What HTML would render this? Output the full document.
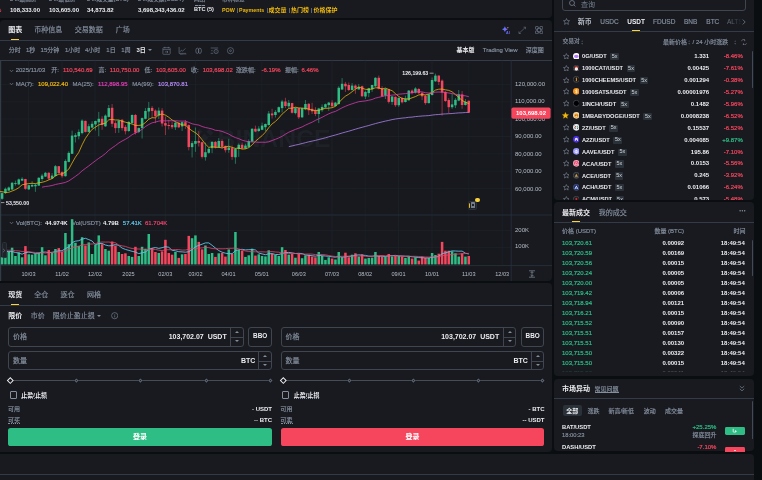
<!DOCTYPE html>
<html lang="zh-CN">
<head>
<meta charset="utf-8">
<title>BTC/USDT</title>
<style>
*{box-sizing:border-box;margin:0;padding:0}
html,body{width:762px;height:480px;overflow:hidden;background:#0b0e11}
body{position:relative;font-family:"Liberation Sans","Noto Sans CJK SC",sans-serif;color:#eaecef;font-size:6px;line-height:1}
.p{position:absolute;background:#181a20}
.a{position:absolute;white-space:nowrap;line-height:1}
.b{font-weight:bold}
.g{color:#848e9c;-webkit-text-stroke:0.18px #848e9c}
.d{color:#5e6673}
.gr{color:#2ebd85}
.rd{color:#f6465d}
.m{-webkit-text-stroke:0.2px currentColor}
.yl{color:#f0b90b}
.ln{position:absolute;background:#333b47;min-height:1.2px}
.r{text-align:right}
</style>
</head>
<body>
<div id="root" style="position:absolute;left:0;top:0;width:762px;height:480px;overflow:hidden;will-change:transform">

<!-- ===== top ticker strip ===== -->
<div class="p" id="top" style="left:-6px;top:0;width:558px;height:17.5px;border-radius:0 0 4px 4px"></div>


<!-- top strip content -->
<div class="a rd b" style="left:-17.6px;top:7.2px;font-size:6px">-6.19%</div>
<div class="a g" style="left:10px;top:-3.5px;font-size:5.7px">24h最高价</div>
<div class="a g" style="left:49px;top:-3.5px;font-size:5.7px">24h最低价</div>
<div class="a g" style="left:87px;top:-3.5px;font-size:5.7px">24h成交量(BTC)</div>
<div class="a g" style="left:138px;top:-3.5px;font-size:5.7px">24h成交额(USDT)</div>
<div class="a g" style="left:194px;top:-3.5px;font-size:5.7px">网络</div>
<div class="a" style="left:194.5px;top:5.4px;width:10.5px;height:0;border-top:0.7px dashed #848e9c"></div>
<div class="a g" style="left:222px;top:-3.5px;font-size:5.7px">币种标签</div>
<div class="a b" style="left:10px;top:7.2px;font-size:6px">108,333.00</div>
<div class="a b" style="left:49px;top:7.2px;font-size:6px">103,605.00</div>
<div class="a b" style="left:87px;top:7.2px;font-size:6px">34,873.82</div>
<div class="a b" style="left:138px;top:7.2px;font-size:6px">3,698,343,436.02</div>
<div class="a b" style="left:194px;top:7.4px;font-size:5.6px">BTC (5)</div>
<div class="a b yl" style="left:222px;top:7.5px;font-size:5.4px">POW</div>
<div class="a b yl" style="left:239.1px;top:7.5px;font-size:5.3px">Payments</div>
<div class="a b yl" style="left:268.6px;top:7.2px;font-size:6px">成交量</div>
<div class="a b yl" style="left:291px;top:7.2px;font-size:6px">热门榜</div>
<div class="a b yl" style="left:313.5px;top:7.2px;font-size:6px">价格保护</div>
<div class="a" style="left:237.2px;top:8.2px;width:0.6px;height:4.6px;background:#5e6673"></div>
<div class="a" style="left:266.5px;top:8.2px;width:0.6px;height:4.6px;background:#5e6673"></div>
<div class="a" style="left:288.9px;top:8.2px;width:0.6px;height:4.6px;background:#5e6673"></div>
<div class="a" style="left:311.4px;top:8.2px;width:0.6px;height:4.6px;background:#5e6673"></div>

<!-- ===== chart panel ===== -->
<div class="p" id="chart" style="left:0;top:19.7px;width:552px;height:261.2px;border-radius:4px 4px 4px 0"></div>


<!-- chart header -->
<div class="a b" style="left:8.2px;top:26px;font-size:7px">图表</div>
<div class="a g" style="left:34.3px;top:26px;font-size:7px">币种信息</div>
<div class="a g" style="left:74.8px;top:26px;font-size:7px">交易数据</div>
<div class="a g" style="left:115.7px;top:26px;font-size:7px">广场</div>
<div class="a" style="left:11px;top:38.8px;width:8px;height:1.4px;background:#fcd535"></div>
<div class="ln" style="left:0;top:40px;width:552px;height:1.2px"></div>
<!-- header icons -->
<svg class="a" style="left:501px;top:25px" width="11" height="10" viewBox="0 0 11 10"><defs><linearGradient id="ai" x1="0" y1="0" x2="1" y2="0.6"><stop offset="0" stop-color="#2f8dff"/><stop offset="1" stop-color="#9a5cf6"/></linearGradient></defs><path d="M3.9 1.3Q4.3 3.8 6.8 4.2Q4.3 4.6 3.9 7.1Q3.5 4.6 1 4.2Q3.5 3.8 3.9 1.3Z" fill="url(#ai)"/><path d="M6.9 1.8L7.2 2.5L7.9 2.8L7.2 3.1L6.9 3.8L6.6 3.1L5.9 2.8L6.6 2.5Z" fill="#e6a08c"/><text x="5.1" y="8.9" font-size="3.6" font-weight="bold" fill="url(#ai)" font-family="'Liberation Sans',sans-serif">AI</text></svg>
<svg class="a" style="left:518px;top:25.5px" width="9" height="9" viewBox="0 0 9 9" fill="none" stroke="#7a8494" stroke-width="0.5"><path d="M1 7.4L7.4 1.3M5.5 1.2H7.5V3.2M0.9 5.4V7.5H2.9"/></svg>
<svg class="a" style="left:534.9px;top:26.1px" width="8.2" height="8.2" viewBox="0 0 9.5 9.5" fill="none" stroke="#7a8494" stroke-width="0.7"><rect x="0.6" y="0.6" width="3.2" height="3.2" rx="0.5"/><rect x="5.7" y="0.6" width="3.2" height="3.2" rx="0.5"/><rect x="0.6" y="5.7" width="3.2" height="3.2" rx="0.5"/><rect x="5.7" y="5.7" width="3.2" height="3.2" rx="0.5"/><circle cx="4.75" cy="4.75" r="2.4"/></svg>
<!-- interval row -->
<div class="a g" style="left:8.7px;top:46.8px;font-size:6px">分时</div>
<div class="a g" style="left:26px;top:46.8px;font-size:6px">1秒</div>
<div class="a g" style="left:40.6px;top:46.8px;font-size:6px">15分钟</div>
<div class="a g" style="left:64.9px;top:46.8px;font-size:6px">1小时</div>
<div class="a g" style="left:85px;top:46.8px;font-size:6px">4小时</div>
<div class="a g" style="left:106.3px;top:46.8px;font-size:6px">1日</div>
<div class="a g" style="left:121.3px;top:46.8px;font-size:6px">1周</div>
<div class="a b" style="left:136.5px;top:46.8px;font-size:6px">3日</div>
<div class="a" style="left:148.4px;top:49.4px;width:0;height:0;border-left:2px solid transparent;border-right:2px solid transparent;border-top:2.2px solid #848e9c"></div>
<svg class="a" style="left:161.5px;top:46.2px" width="9" height="9" viewBox="0 0 9 9" fill="none" stroke="#7a8494" stroke-width="0.55"><rect x="0.9" y="1.7" width="7.3" height="6.6" rx="0.7"/><path d="M2.8 0.8V2.4M6.3 0.8V2.4M0.9 3.6H8.2M2.9 5.9H6M4.9 4.9L6 5.9L4.9 6.9"/></svg>
<svg class="a" style="left:177.5px;top:46.2px" width="9" height="9" viewBox="0 0 9 9" fill="none" stroke="#7a8494" stroke-width="0.55"><path d="M1.1 1V7.4H8.2M2 5.8L3.4 4.2L4.6 5.2L7.4 2.4"/><path d="M2 8.4H8.2" stroke-dasharray="0.7 0.5"/></svg>
<svg class="a" style="left:193.6px;top:46.2px" width="9" height="9" viewBox="0 0 9 9" fill="none" stroke="#7a8494" stroke-width="0.6"><ellipse cx="3.3" cy="4.8" rx="1.5" ry="2.7"/><ellipse cx="5.9" cy="4.8" rx="1.5" ry="2.7"/></svg>
<svg class="a" style="left:209.5px;top:46.2px" width="9" height="9" viewBox="0 0 9 9" fill="none" stroke="#7a8494" stroke-width="0.55"><path d="M0.7 2H8.2M1.2 4.7H2.6M0.7 7.3H3.2"/><ellipse cx="6.1" cy="5.5" rx="2.1" ry="2.1"/><path d="M6.1 4.4V6.6" stroke-width="0.4"/></svg>
<svg class="a" style="left:225.5px;top:46.2px" width="9" height="9" viewBox="0 0 9 9" fill="none" stroke="#7a8494" stroke-width="0.55"><circle cx="4.5" cy="4.7" r="3.1"/><circle cx="4.5" cy="4.7" r="0.9"/></svg>
<div class="a b" style="left:456.5px;top:47.2px;font-size:6px">基本版</div>
<div class="a g" style="left:482.8px;top:47.2px;font-size:6px">Trading View</div>
<div class="a g" style="left:525.8px;top:47.2px;font-size:6px">深度图</div>
<div class="ln" style="left:0;top:60px;width:552px;height:1.2px"></div>

<!--CHART-->
<svg class="a" id="chartsvg" style="left:0;top:60px" width="552" height="221" viewBox="0 60 552 221" font-family="'Liberation Sans','Noto Sans CJK SC',sans-serif">
<rect x="0" y="61" width="511" height="220" fill="#17191f"/>
<g stroke="#1c2428" stroke-width="0.7">
<path d="M28.5 60.6V265"/>
<path d="M62 60.6V265"/>
<path d="M95 60.6V265"/>
<path d="M128.5 60.6V265"/>
<path d="M165.3 60.6V265"/>
<path d="M195.5 60.6V265"/>
<path d="M228.5 60.6V265"/>
<path d="M261.8 60.6V265"/>
<path d="M298.8 60.6V265"/>
<path d="M332 60.6V265"/>
<path d="M365.2 60.6V265"/>
<path d="M398.5 60.6V265"/>
<path d="M432 60.6V265"/>
<path d="M468.8 60.6V265"/>
<path d="M502.2 60.6V265"/>
<path d="M0 84.4H511"/>
<path d="M0 101.8H511"/>
<path d="M0 119.1H511"/>
<path d="M0 136.5H511"/>
<path d="M0 153.9H511"/>
<path d="M0 171.2H511"/>
<path d="M0 188.6H511"/>
<path d="M0 230.4H511"/>
<path d="M0 247.6H511"/>
</g>
<g fill="#1e2127"><g transform="translate(204.4,137.8) rotate(45)"><rect x="-3" y="-3" width="6" height="6"/><rect x="-10" y="-3" width="4.4" height="6"/><rect x="5.6" y="-3" width="4.4" height="6"/><rect x="-3" y="-10" width="6" height="4.4"/><rect x="-3" y="5.6" width="6" height="4.4"/></g>
<text x="217.6" y="146.5" font-size="24" font-weight="bold" textLength="113" lengthAdjust="spacingAndGlyphs">BINANCE</text></g>
<g stroke="#2a323c" stroke-width="0.8"><path d="M511.2 60V281"/><path d="M0 215H552"/><path d="M0 265.6H552"/></g>
<rect x="0" y="60" width="1.2" height="221" fill="#333b47"/>
<path d="M2.10 192.2V199.8" stroke="#2ebd85" stroke-width="0.55"/>
<rect x="0.85" y="193.1" width="2.5" height="5.7" fill="#2ebd85"/>
<path d="M5.43 187.5V194.0" stroke="#2ebd85" stroke-width="0.55"/>
<rect x="4.18" y="188.8" width="2.5" height="4.3" fill="#2ebd85"/>
<path d="M8.77 186.5V191.2" stroke="#2ebd85" stroke-width="0.55"/>
<rect x="7.52" y="187.5" width="2.5" height="3.1" fill="#2ebd85"/>
<path d="M12.10 181.9V190.0" stroke="#2ebd85" stroke-width="0.55"/>
<rect x="10.85" y="182.8" width="2.5" height="6.7" fill="#2ebd85"/>
<path d="M15.43 180.6V185.6" stroke="#2ebd85" stroke-width="0.55"/>
<rect x="14.18" y="183.1" width="2.5" height="0.9" fill="#2ebd85"/>
<path d="M18.77 178.5V185.2" stroke="#2ebd85" stroke-width="0.55"/>
<rect x="17.52" y="179.4" width="2.5" height="5.0" fill="#2ebd85"/>
<path d="M22.10 177.2V181.2" stroke="#2ebd85" stroke-width="0.55"/>
<rect x="20.85" y="178.8" width="2.5" height="1.8" fill="#2ebd85"/>
<path d="M25.43 178.8V189.8" stroke="#f6465d" stroke-width="0.55"/>
<rect x="24.18" y="179.0" width="2.5" height="9.8" fill="#f6465d"/>
<path d="M28.77 184.8V190.0" stroke="#2ebd85" stroke-width="0.55"/>
<rect x="27.52" y="185.2" width="2.5" height="4.2" fill="#2ebd85"/>
<path d="M32.10 181.2V187.2" stroke="#2ebd85" stroke-width="0.55"/>
<rect x="30.85" y="185.0" width="2.5" height="1.5" fill="#2ebd85"/>
<path d="M35.43 183.8V191.9" stroke="#2ebd85" stroke-width="0.55"/>
<rect x="34.18" y="184.8" width="2.5" height="1.5" fill="#2ebd85"/>
<path d="M38.77 177.2V186.0" stroke="#2ebd85" stroke-width="0.55"/>
<rect x="37.52" y="177.8" width="2.5" height="7.8" fill="#2ebd85"/>
<path d="M42.10 173.8V181.2" stroke="#2ebd85" stroke-width="0.55"/>
<rect x="40.85" y="175.6" width="2.5" height="3.4" fill="#2ebd85"/>
<path d="M45.43 171.9V176.9" stroke="#2ebd85" stroke-width="0.55"/>
<rect x="44.18" y="172.8" width="2.5" height="3.8" fill="#2ebd85"/>
<path d="M48.77 172.2V180.0" stroke="#f6465d" stroke-width="0.55"/>
<rect x="47.52" y="172.8" width="2.5" height="5.8" fill="#f6465d"/>
<path d="M52.10 173.1V179.0" stroke="#2ebd85" stroke-width="0.55"/>
<rect x="50.85" y="175.6" width="2.5" height="2.9" fill="#2ebd85"/>
<path d="M55.43 165.0V176.5" stroke="#2ebd85" stroke-width="0.55"/>
<rect x="54.18" y="166.2" width="2.5" height="9.8" fill="#2ebd85"/>
<path d="M58.77 166.0V173.8" stroke="#f6465d" stroke-width="0.55"/>
<rect x="57.52" y="166.2" width="2.5" height="6.8" fill="#f6465d"/>
<path d="M62.10 171.5V177.8" stroke="#f6465d" stroke-width="0.55"/>
<rect x="60.85" y="171.9" width="2.5" height="4.3" fill="#f6465d"/>
<path d="M65.43 159.4V176.6" stroke="#2ebd85" stroke-width="0.55"/>
<rect x="64.18" y="161.0" width="2.5" height="15.2" fill="#2ebd85"/>
<path d="M68.77 151.3V162.3" stroke="#2ebd85" stroke-width="0.55"/>
<rect x="67.52" y="152.9" width="2.5" height="9.0" fill="#2ebd85"/>
<path d="M72.10 130.6V154.0" stroke="#2ebd85" stroke-width="0.55"/>
<rect x="70.85" y="135.6" width="2.5" height="18.2" fill="#2ebd85"/>
<path d="M75.43 133.1V142.5" stroke="#2ebd85" stroke-width="0.55"/>
<rect x="74.18" y="135.2" width="2.5" height="1.7" fill="#2ebd85"/>
<path d="M78.77 129.4V139.4" stroke="#2ebd85" stroke-width="0.55"/>
<rect x="77.52" y="131.9" width="2.5" height="4.3" fill="#2ebd85"/>
<path d="M82.10 119.4V134.4" stroke="#2ebd85" stroke-width="0.55"/>
<rect x="80.85" y="120.6" width="2.5" height="12.5" fill="#2ebd85"/>
<path d="M85.43 120.6V132.5" stroke="#f6465d" stroke-width="0.55"/>
<rect x="84.18" y="120.9" width="2.5" height="11.0" fill="#f6465d"/>
<path d="M88.77 123.8V132.5" stroke="#2ebd85" stroke-width="0.55"/>
<rect x="87.52" y="126.2" width="2.5" height="5.7" fill="#2ebd85"/>
<path d="M92.10 121.2V128.1" stroke="#2ebd85" stroke-width="0.55"/>
<rect x="90.85" y="123.8" width="2.5" height="3.8" fill="#2ebd85"/>
<path d="M95.43 120.6V130.6" stroke="#2ebd85" stroke-width="0.55"/>
<rect x="94.18" y="121.0" width="2.5" height="3.4" fill="#2ebd85"/>
<path d="M98.77 111.9V136.2" stroke="#2ebd85" stroke-width="0.55"/>
<rect x="97.52" y="118.8" width="2.5" height="3.5" fill="#2ebd85"/>
<path d="M102.10 116.2V129.8" stroke="#f6465d" stroke-width="0.55"/>
<rect x="100.85" y="118.8" width="2.5" height="6.2" fill="#f6465d"/>
<path d="M105.43 114.4V126.9" stroke="#2ebd85" stroke-width="0.55"/>
<rect x="104.18" y="115.6" width="2.5" height="10.7" fill="#2ebd85"/>
<path d="M108.77 105.0V117.5" stroke="#2ebd85" stroke-width="0.55"/>
<rect x="107.52" y="108.1" width="2.5" height="8.8" fill="#2ebd85"/>
<path d="M112.10 104.0V126.9" stroke="#f6465d" stroke-width="0.55"/>
<rect x="110.85" y="107.8" width="2.5" height="16.0" fill="#f6465d"/>
<path d="M115.43 121.2V133.1" stroke="#f6465d" stroke-width="0.55"/>
<rect x="114.18" y="123.1" width="2.5" height="5.0" fill="#f6465d"/>
<path d="M118.77 120.0V132.8" stroke="#2ebd85" stroke-width="0.55"/>
<rect x="117.52" y="120.6" width="2.5" height="7.5" fill="#2ebd85"/>
<path d="M122.10 119.0V130.6" stroke="#f6465d" stroke-width="0.55"/>
<rect x="120.85" y="119.8" width="2.5" height="8.3" fill="#f6465d"/>
<path d="M125.43 125.0V134.4" stroke="#f6465d" stroke-width="0.55"/>
<rect x="124.18" y="126.9" width="2.5" height="4.3" fill="#f6465d"/>
<path d="M128.77 121.2V131.9" stroke="#2ebd85" stroke-width="0.55"/>
<rect x="127.52" y="121.9" width="2.5" height="9.1" fill="#2ebd85"/>
<path d="M132.10 114.4V123.8" stroke="#2ebd85" stroke-width="0.55"/>
<rect x="130.85" y="115.0" width="2.5" height="8.1" fill="#2ebd85"/>
<path d="M135.43 114.0V134.6" stroke="#f6465d" stroke-width="0.55"/>
<rect x="134.18" y="115.0" width="2.5" height="17.6" fill="#f6465d"/>
<path d="M138.77 127.5V133.1" stroke="#2ebd85" stroke-width="0.55"/>
<rect x="137.52" y="128.1" width="2.5" height="3.8" fill="#2ebd85"/>
<path d="M142.10 117.5V138.5" stroke="#2ebd85" stroke-width="0.55"/>
<rect x="140.85" y="118.1" width="2.5" height="10.0" fill="#2ebd85"/>
<path d="M145.43 108.1V119.4" stroke="#2ebd85" stroke-width="0.55"/>
<rect x="144.18" y="111.0" width="2.5" height="7.8" fill="#2ebd85"/>
<path d="M148.77 101.9V119.4" stroke="#2ebd85" stroke-width="0.55"/>
<rect x="147.52" y="107.9" width="2.5" height="3.6" fill="#2ebd85"/>
<path d="M152.10 106.0V117.8" stroke="#f6465d" stroke-width="0.55"/>
<rect x="150.85" y="107.9" width="2.5" height="3.1" fill="#f6465d"/>
<path d="M155.43 109.4V123.1" stroke="#f6465d" stroke-width="0.55"/>
<rect x="154.18" y="110.6" width="2.5" height="5.7" fill="#f6465d"/>
<path d="M158.77 107.5V119.0" stroke="#2ebd85" stroke-width="0.55"/>
<rect x="157.52" y="110.6" width="2.5" height="5.0" fill="#2ebd85"/>
<path d="M162.10 108.1V126.5" stroke="#f6465d" stroke-width="0.55"/>
<rect x="160.85" y="110.6" width="2.5" height="12.9" fill="#f6465d"/>
<path d="M165.43 116.5V135.0" stroke="#f6465d" stroke-width="0.55"/>
<rect x="164.18" y="123.1" width="2.5" height="2.5" fill="#f6465d"/>
<path d="M168.76 119.8V129.4" stroke="#f6465d" stroke-width="0.55"/>
<rect x="167.51" y="125.0" width="2.5" height="1.0" fill="#f6465d"/>
<path d="M172.10 121.9V129.0" stroke="#f6465d" stroke-width="0.55"/>
<rect x="170.85" y="125.0" width="2.5" height="2.2" fill="#f6465d"/>
<path d="M175.43 121.2V130.0" stroke="#2ebd85" stroke-width="0.55"/>
<rect x="174.18" y="122.8" width="2.5" height="4.5" fill="#2ebd85"/>
<path d="M178.76 122.2V128.1" stroke="#f6465d" stroke-width="0.55"/>
<rect x="177.51" y="122.8" width="2.5" height="4.5" fill="#f6465d"/>
<path d="M182.10 121.5V131.0" stroke="#2ebd85" stroke-width="0.55"/>
<rect x="180.85" y="122.2" width="2.5" height="4.2" fill="#2ebd85"/>
<path d="M185.43 120.0V128.8" stroke="#f6465d" stroke-width="0.55"/>
<rect x="184.18" y="122.2" width="2.5" height="3.3" fill="#f6465d"/>
<path d="M188.76 124.5V150.4" stroke="#f6465d" stroke-width="0.55"/>
<rect x="187.51" y="125.1" width="2.5" height="22.0" fill="#f6465d"/>
<path d="M192.10 141.0V157.5" stroke="#2ebd85" stroke-width="0.55"/>
<rect x="190.85" y="143.1" width="2.5" height="4.0" fill="#2ebd85"/>
<path d="M195.43 127.5V151.9" stroke="#2ebd85" stroke-width="0.55"/>
<rect x="194.18" y="141.0" width="2.5" height="2.8" fill="#2ebd85"/>
<path d="M198.76 131.2V146.6" stroke="#f6465d" stroke-width="0.55"/>
<rect x="197.51" y="141.0" width="2.5" height="1.8" fill="#f6465d"/>
<path d="M202.10 141.5V158.5" stroke="#f6465d" stroke-width="0.55"/>
<rect x="200.85" y="142.2" width="2.5" height="14.7" fill="#f6465d"/>
<path d="M205.43 142.5V160.6" stroke="#2ebd85" stroke-width="0.55"/>
<rect x="204.18" y="152.2" width="2.5" height="5.0" fill="#2ebd85"/>
<path d="M208.76 147.5V153.8" stroke="#2ebd85" stroke-width="0.55"/>
<rect x="207.51" y="148.8" width="2.5" height="4.0" fill="#2ebd85"/>
<path d="M212.10 141.2V153.1" stroke="#2ebd85" stroke-width="0.55"/>
<rect x="210.85" y="141.9" width="2.5" height="6.2" fill="#2ebd85"/>
<path d="M215.43 141.0V148.5" stroke="#f6465d" stroke-width="0.55"/>
<rect x="214.18" y="141.9" width="2.5" height="5.6" fill="#f6465d"/>
<path d="M218.76 138.1V148.1" stroke="#2ebd85" stroke-width="0.55"/>
<rect x="217.51" y="141.0" width="2.5" height="6.5" fill="#2ebd85"/>
<path d="M222.10 139.4V148.8" stroke="#f6465d" stroke-width="0.55"/>
<rect x="220.85" y="141.0" width="2.5" height="5.9" fill="#f6465d"/>
<path d="M225.43 145.6V152.5" stroke="#f6465d" stroke-width="0.55"/>
<rect x="224.18" y="146.2" width="2.5" height="4.0" fill="#f6465d"/>
<path d="M228.76 138.8V152.8" stroke="#2ebd85" stroke-width="0.55"/>
<rect x="227.51" y="147.5" width="2.5" height="2.5" fill="#2ebd85"/>
<path d="M232.10 145.6V159.8" stroke="#f6465d" stroke-width="0.55"/>
<rect x="230.85" y="148.1" width="2.5" height="8.8" fill="#f6465d"/>
<path d="M235.43 148.1V163.8" stroke="#2ebd85" stroke-width="0.55"/>
<rect x="234.18" y="148.8" width="2.5" height="8.5" fill="#2ebd85"/>
<path d="M238.76 143.5V156.9" stroke="#2ebd85" stroke-width="0.55"/>
<rect x="237.51" y="144.8" width="2.5" height="4.2" fill="#2ebd85"/>
<path d="M242.10 142.5V149.0" stroke="#f6465d" stroke-width="0.55"/>
<rect x="240.85" y="144.8" width="2.5" height="3.8" fill="#f6465d"/>
<path d="M245.43 143.8V149.0" stroke="#2ebd85" stroke-width="0.55"/>
<rect x="244.18" y="145.6" width="2.5" height="2.9" fill="#2ebd85"/>
<path d="M248.76 139.4V147.5" stroke="#2ebd85" stroke-width="0.55"/>
<rect x="247.51" y="141.2" width="2.5" height="5.7" fill="#2ebd85"/>
<path d="M252.10 128.1V142.2" stroke="#2ebd85" stroke-width="0.55"/>
<rect x="250.85" y="128.8" width="2.5" height="12.8" fill="#2ebd85"/>
<path d="M255.43 125.6V132.2" stroke="#f6465d" stroke-width="0.55"/>
<rect x="254.18" y="128.8" width="2.5" height="2.7" fill="#f6465d"/>
<path d="M258.76 126.2V131.9" stroke="#2ebd85" stroke-width="0.55"/>
<rect x="257.51" y="128.6" width="2.5" height="2.4" fill="#2ebd85"/>
<path d="M262.10 122.6V130.1" stroke="#2ebd85" stroke-width="0.55"/>
<rect x="260.85" y="125.6" width="2.5" height="4.2" fill="#2ebd85"/>
<path d="M265.43 123.5V131.2" stroke="#2ebd85" stroke-width="0.55"/>
<rect x="264.18" y="124.0" width="2.5" height="3.2" fill="#2ebd85"/>
<path d="M268.76 111.0V125.6" stroke="#2ebd85" stroke-width="0.55"/>
<rect x="267.51" y="113.5" width="2.5" height="11.5" fill="#2ebd85"/>
<path d="M272.10 108.8V118.5" stroke="#f6465d" stroke-width="0.55"/>
<rect x="270.85" y="113.5" width="2.5" height="1.8" fill="#f6465d"/>
<path d="M275.43 110.0V117.5" stroke="#2ebd85" stroke-width="0.55"/>
<rect x="274.18" y="111.9" width="2.5" height="3.1" fill="#2ebd85"/>
<path d="M278.76 106.5V112.8" stroke="#2ebd85" stroke-width="0.55"/>
<rect x="277.51" y="107.2" width="2.5" height="5.0" fill="#2ebd85"/>
<path d="M282.10 99.8V112.5" stroke="#2ebd85" stroke-width="0.55"/>
<rect x="280.85" y="101.5" width="2.5" height="6.6" fill="#2ebd85"/>
<path d="M285.43 97.8V108.1" stroke="#f6465d" stroke-width="0.55"/>
<rect x="284.18" y="101.5" width="2.5" height="4.5" fill="#f6465d"/>
<path d="M288.76 100.0V108.1" stroke="#2ebd85" stroke-width="0.55"/>
<rect x="287.51" y="102.8" width="2.5" height="3.5" fill="#2ebd85"/>
<path d="M292.10 102.8V113.5" stroke="#f6465d" stroke-width="0.55"/>
<rect x="290.85" y="103.1" width="2.5" height="9.7" fill="#f6465d"/>
<path d="M295.43 107.2V114.4" stroke="#2ebd85" stroke-width="0.55"/>
<rect x="294.18" y="108.1" width="2.5" height="5.0" fill="#2ebd85"/>
<path d="M298.76 107.8V119.0" stroke="#f6465d" stroke-width="0.55"/>
<rect x="297.51" y="108.1" width="2.5" height="9.2" fill="#f6465d"/>
<path d="M302.10 107.8V118.1" stroke="#2ebd85" stroke-width="0.55"/>
<rect x="300.85" y="108.1" width="2.5" height="9.2" fill="#2ebd85"/>
<path d="M305.43 100.0V110.2" stroke="#2ebd85" stroke-width="0.55"/>
<rect x="304.18" y="104.0" width="2.5" height="5.4" fill="#2ebd85"/>
<path d="M308.76 103.1V115.0" stroke="#f6465d" stroke-width="0.55"/>
<rect x="307.51" y="103.8" width="2.5" height="6.5" fill="#f6465d"/>
<path d="M312.10 102.8V114.0" stroke="#f6465d" stroke-width="0.55"/>
<rect x="310.85" y="108.8" width="2.5" height="2.5" fill="#f6465d"/>
<path d="M315.43 107.2V116.2" stroke="#f6465d" stroke-width="0.55"/>
<rect x="314.18" y="110.2" width="2.5" height="3.8" fill="#f6465d"/>
<path d="M318.76 107.8V123.1" stroke="#2ebd85" stroke-width="0.55"/>
<rect x="317.51" y="108.5" width="2.5" height="5.5" fill="#2ebd85"/>
<path d="M322.10 104.4V111.9" stroke="#2ebd85" stroke-width="0.55"/>
<rect x="320.85" y="106.9" width="2.5" height="3.3" fill="#2ebd85"/>
<path d="M325.43 103.5V108.5" stroke="#2ebd85" stroke-width="0.55"/>
<rect x="324.18" y="104.2" width="2.5" height="3.2" fill="#2ebd85"/>
<path d="M328.76 101.9V110.9" stroke="#2ebd85" stroke-width="0.55"/>
<rect x="327.51" y="102.6" width="2.5" height="2.5" fill="#2ebd85"/>
<path d="M332.10 100.1V107.4" stroke="#f6465d" stroke-width="0.55"/>
<rect x="330.85" y="102.6" width="2.5" height="3.7" fill="#f6465d"/>
<path d="M335.43 101.9V106.5" stroke="#2ebd85" stroke-width="0.55"/>
<rect x="334.18" y="102.6" width="2.5" height="3.5" fill="#2ebd85"/>
<path d="M338.76 86.2V104.8" stroke="#2ebd85" stroke-width="0.55"/>
<rect x="337.51" y="87.8" width="2.5" height="16.2" fill="#2ebd85"/>
<path d="M342.10 78.1V90.0" stroke="#2ebd85" stroke-width="0.55"/>
<rect x="340.85" y="83.8" width="2.5" height="5.7" fill="#2ebd85"/>
<path d="M345.43 81.9V91.9" stroke="#f6465d" stroke-width="0.55"/>
<rect x="344.18" y="83.8" width="2.5" height="2.5" fill="#f6465d"/>
<path d="M348.76 82.5V91.0" stroke="#f6465d" stroke-width="0.55"/>
<rect x="347.51" y="85.0" width="2.5" height="5.0" fill="#f6465d"/>
<path d="M352.10 83.1V90.6" stroke="#2ebd85" stroke-width="0.55"/>
<rect x="350.85" y="85.6" width="2.5" height="4.4" fill="#2ebd85"/>
<path d="M355.43 84.4V93.8" stroke="#f6465d" stroke-width="0.55"/>
<rect x="354.18" y="85.6" width="2.5" height="2.9" fill="#f6465d"/>
<path d="M358.76 84.0V89.8" stroke="#2ebd85" stroke-width="0.55"/>
<rect x="357.51" y="86.9" width="2.5" height="2.5" fill="#2ebd85"/>
<path d="M362.10 85.6V97.2" stroke="#f6465d" stroke-width="0.55"/>
<rect x="360.85" y="86.2" width="2.5" height="10.0" fill="#f6465d"/>
<path d="M365.43 90.6V99.0" stroke="#2ebd85" stroke-width="0.55"/>
<rect x="364.18" y="91.9" width="2.5" height="4.6" fill="#2ebd85"/>
<path d="M368.76 87.8V97.2" stroke="#2ebd85" stroke-width="0.55"/>
<rect x="367.51" y="88.1" width="2.5" height="5.0" fill="#2ebd85"/>
<path d="M372.10 84.8V91.9" stroke="#2ebd85" stroke-width="0.55"/>
<rect x="370.85" y="85.0" width="2.5" height="4.4" fill="#2ebd85"/>
<path d="M375.43 77.2V86.9" stroke="#2ebd85" stroke-width="0.55"/>
<rect x="374.18" y="77.8" width="2.5" height="8.5" fill="#2ebd85"/>
<path d="M378.76 75.6V89.4" stroke="#f6465d" stroke-width="0.55"/>
<rect x="377.51" y="77.8" width="2.5" height="11.0" fill="#f6465d"/>
<path d="M382.10 86.2V96.9" stroke="#f6465d" stroke-width="0.55"/>
<rect x="380.85" y="88.1" width="2.5" height="8.2" fill="#f6465d"/>
<path d="M385.43 88.1V99.0" stroke="#2ebd85" stroke-width="0.55"/>
<rect x="384.18" y="89.0" width="2.5" height="6.6" fill="#2ebd85"/>
<path d="M388.76 88.8V103.5" stroke="#f6465d" stroke-width="0.55"/>
<rect x="387.51" y="89.4" width="2.5" height="12.5" fill="#f6465d"/>
<path d="M392.10 96.0V104.8" stroke="#2ebd85" stroke-width="0.55"/>
<rect x="390.85" y="96.5" width="2.5" height="5.4" fill="#2ebd85"/>
<path d="M395.43 96.2V106.9" stroke="#f6465d" stroke-width="0.55"/>
<rect x="394.18" y="96.9" width="2.5" height="8.3" fill="#f6465d"/>
<path d="M398.76 97.4V106.9" stroke="#2ebd85" stroke-width="0.55"/>
<rect x="397.51" y="97.9" width="2.5" height="7.3" fill="#2ebd85"/>
<path d="M402.10 96.9V103.5" stroke="#f6465d" stroke-width="0.55"/>
<rect x="400.85" y="98.1" width="2.5" height="4.2" fill="#f6465d"/>
<path d="M405.43 95.6V102.5" stroke="#2ebd85" stroke-width="0.55"/>
<rect x="404.18" y="98.8" width="2.5" height="3.2" fill="#2ebd85"/>
<path d="M408.76 90.0V100.6" stroke="#2ebd85" stroke-width="0.55"/>
<rect x="407.51" y="90.6" width="2.5" height="9.7" fill="#2ebd85"/>
<path d="M412.10 89.4V94.4" stroke="#f6465d" stroke-width="0.55"/>
<rect x="410.85" y="90.6" width="2.5" height="2.5" fill="#f6465d"/>
<path d="M415.43 87.2V93.5" stroke="#2ebd85" stroke-width="0.55"/>
<rect x="414.18" y="88.5" width="2.5" height="4.2" fill="#2ebd85"/>
<path d="M418.76 88.1V94.0" stroke="#f6465d" stroke-width="0.55"/>
<rect x="417.51" y="89.0" width="2.5" height="4.1" fill="#f6465d"/>
<path d="M422.10 91.9V100.2" stroke="#f6465d" stroke-width="0.55"/>
<rect x="420.85" y="92.8" width="2.5" height="3.5" fill="#f6465d"/>
<path d="M425.43 95.0V104.8" stroke="#f6465d" stroke-width="0.55"/>
<rect x="424.18" y="95.6" width="2.5" height="7.5" fill="#f6465d"/>
<path d="M428.76 93.8V103.5" stroke="#2ebd85" stroke-width="0.55"/>
<rect x="427.51" y="94.4" width="2.5" height="8.7" fill="#2ebd85"/>
<path d="M432.10 77.5V95.6" stroke="#2ebd85" stroke-width="0.55"/>
<rect x="430.85" y="80.0" width="2.5" height="15.0" fill="#2ebd85"/>
<path d="M435.43 73.6V81.9" stroke="#2ebd85" stroke-width="0.55"/>
<rect x="434.18" y="75.6" width="2.5" height="5.7" fill="#2ebd85"/>
<path d="M438.76 75.2V85.0" stroke="#f6465d" stroke-width="0.55"/>
<rect x="437.51" y="75.6" width="2.5" height="6.3" fill="#f6465d"/>
<path d="M442.10 79.4V115.6" stroke="#f6465d" stroke-width="0.55"/>
<rect x="440.85" y="80.6" width="2.5" height="11.9" fill="#f6465d"/>
<path d="M445.43 91.2V101.9" stroke="#f6465d" stroke-width="0.55"/>
<rect x="444.18" y="91.9" width="2.5" height="9.1" fill="#f6465d"/>
<path d="M448.76 98.1V113.1" stroke="#f6465d" stroke-width="0.55"/>
<rect x="447.51" y="100.0" width="2.5" height="7.2" fill="#f6465d"/>
<path d="M452.10 94.0V108.8" stroke="#2ebd85" stroke-width="0.55"/>
<rect x="450.85" y="104.4" width="2.5" height="2.8" fill="#2ebd85"/>
<path d="M455.43 98.1V108.1" stroke="#2ebd85" stroke-width="0.55"/>
<rect x="454.18" y="99.8" width="2.5" height="5.5" fill="#2ebd85"/>
<path d="M458.76 90.0V101.2" stroke="#2ebd85" stroke-width="0.55"/>
<rect x="457.51" y="94.4" width="2.5" height="6.2" fill="#2ebd85"/>
<path d="M462.10 91.0V108.8" stroke="#f6465d" stroke-width="0.55"/>
<rect x="460.85" y="94.4" width="2.5" height="10.6" fill="#f6465d"/>
<path d="M465.43 99.0V105.6" stroke="#2ebd85" stroke-width="0.55"/>
<rect x="464.18" y="101.9" width="2.5" height="3.1" fill="#2ebd85"/>
<path d="M468.76 100.5V112.9" stroke="#f6465d" stroke-width="0.55"/>
<rect x="467.51" y="100.8" width="2.5" height="11.9" fill="#f6465d"/>
<rect x="0.85" y="257.3" width="2.5" height="7.1" fill="#2ebd85"/>
<rect x="4.18" y="257.3" width="2.5" height="7.1" fill="#2ebd85"/>
<rect x="7.52" y="251.4" width="2.5" height="13.0" fill="#2ebd85"/>
<rect x="10.85" y="247.7" width="2.5" height="16.7" fill="#2ebd85"/>
<rect x="14.18" y="256.0" width="2.5" height="8.4" fill="#2ebd85"/>
<rect x="17.52" y="252.4" width="2.5" height="12.0" fill="#2ebd85"/>
<rect x="20.85" y="257.3" width="2.5" height="7.1" fill="#2ebd85"/>
<rect x="24.18" y="246.1" width="2.5" height="18.3" fill="#f6465d"/>
<rect x="27.52" y="254.3" width="2.5" height="10.1" fill="#2ebd85"/>
<rect x="30.85" y="254.7" width="2.5" height="9.7" fill="#2ebd85"/>
<rect x="34.18" y="253.7" width="2.5" height="10.7" fill="#2ebd85"/>
<rect x="37.52" y="252.7" width="2.5" height="11.7" fill="#2ebd85"/>
<rect x="40.85" y="247.2" width="2.5" height="17.2" fill="#2ebd85"/>
<rect x="44.18" y="255.3" width="2.5" height="9.1" fill="#2ebd85"/>
<rect x="47.52" y="250.0" width="2.5" height="14.4" fill="#f6465d"/>
<rect x="50.85" y="253.0" width="2.5" height="11.4" fill="#2ebd85"/>
<rect x="54.18" y="249.0" width="2.5" height="15.4" fill="#2ebd85"/>
<rect x="57.52" y="248.1" width="2.5" height="16.3" fill="#f6465d"/>
<rect x="60.85" y="252.0" width="2.5" height="12.4" fill="#f6465d"/>
<rect x="64.18" y="233.0" width="2.5" height="31.4" fill="#2ebd85"/>
<rect x="67.52" y="244.2" width="2.5" height="20.2" fill="#2ebd85"/>
<rect x="70.85" y="219.2" width="2.5" height="45.2" fill="#2ebd85"/>
<rect x="74.18" y="242.8" width="2.5" height="21.6" fill="#2ebd85"/>
<rect x="77.52" y="245.9" width="2.5" height="18.5" fill="#2ebd85"/>
<rect x="80.85" y="237.2" width="2.5" height="27.2" fill="#2ebd85"/>
<rect x="84.18" y="245.5" width="2.5" height="18.9" fill="#f6465d"/>
<rect x="87.52" y="242.4" width="2.5" height="22.0" fill="#2ebd85"/>
<rect x="90.85" y="254.0" width="2.5" height="10.4" fill="#2ebd85"/>
<rect x="94.18" y="244.8" width="2.5" height="19.6" fill="#2ebd85"/>
<rect x="97.52" y="235.4" width="2.5" height="29.0" fill="#2ebd85"/>
<rect x="100.85" y="244.2" width="2.5" height="20.2" fill="#f6465d"/>
<rect x="104.18" y="249.0" width="2.5" height="15.4" fill="#2ebd85"/>
<rect x="107.52" y="250.7" width="2.5" height="13.7" fill="#2ebd85"/>
<rect x="110.85" y="241.5" width="2.5" height="22.9" fill="#f6465d"/>
<rect x="114.18" y="245.5" width="2.5" height="18.9" fill="#f6465d"/>
<rect x="117.52" y="252.0" width="2.5" height="12.4" fill="#2ebd85"/>
<rect x="120.85" y="254.0" width="2.5" height="10.4" fill="#f6465d"/>
<rect x="124.18" y="253.3" width="2.5" height="11.1" fill="#f6465d"/>
<rect x="127.52" y="256.0" width="2.5" height="8.4" fill="#2ebd85"/>
<rect x="130.85" y="256.9" width="2.5" height="7.5" fill="#2ebd85"/>
<rect x="134.18" y="246.8" width="2.5" height="17.6" fill="#f6465d"/>
<rect x="137.52" y="256.0" width="2.5" height="8.4" fill="#2ebd85"/>
<rect x="140.85" y="246.8" width="2.5" height="17.6" fill="#2ebd85"/>
<rect x="144.18" y="248.7" width="2.5" height="15.7" fill="#2ebd85"/>
<rect x="147.52" y="234.0" width="2.5" height="30.4" fill="#2ebd85"/>
<rect x="150.85" y="248.1" width="2.5" height="16.3" fill="#f6465d"/>
<rect x="154.18" y="252.0" width="2.5" height="12.4" fill="#f6465d"/>
<rect x="157.52" y="253.0" width="2.5" height="11.4" fill="#2ebd85"/>
<rect x="160.85" y="251.4" width="2.5" height="13.0" fill="#f6465d"/>
<rect x="164.18" y="239.8" width="2.5" height="24.6" fill="#f6465d"/>
<rect x="167.51" y="253.0" width="2.5" height="11.4" fill="#f6465d"/>
<rect x="170.85" y="254.7" width="2.5" height="9.7" fill="#f6465d"/>
<rect x="174.18" y="252.0" width="2.5" height="12.4" fill="#2ebd85"/>
<rect x="177.51" y="257.9" width="2.5" height="6.5" fill="#f6465d"/>
<rect x="180.85" y="254.3" width="2.5" height="10.1" fill="#2ebd85"/>
<rect x="184.18" y="254.0" width="2.5" height="10.4" fill="#f6465d"/>
<rect x="187.51" y="235.9" width="2.5" height="28.5" fill="#f6465d"/>
<rect x="190.85" y="238.2" width="2.5" height="26.2" fill="#2ebd85"/>
<rect x="194.18" y="235.4" width="2.5" height="29.0" fill="#2ebd85"/>
<rect x="197.51" y="241.9" width="2.5" height="22.5" fill="#f6465d"/>
<rect x="200.85" y="249.4" width="2.5" height="15.0" fill="#f6465d"/>
<rect x="204.18" y="245.5" width="2.5" height="18.9" fill="#2ebd85"/>
<rect x="207.51" y="254.0" width="2.5" height="10.4" fill="#2ebd85"/>
<rect x="210.85" y="253.0" width="2.5" height="11.4" fill="#2ebd85"/>
<rect x="214.18" y="256.9" width="2.5" height="7.5" fill="#f6465d"/>
<rect x="217.51" y="253.3" width="2.5" height="11.1" fill="#2ebd85"/>
<rect x="220.85" y="253.0" width="2.5" height="11.4" fill="#f6465d"/>
<rect x="224.18" y="256.6" width="2.5" height="7.8" fill="#f6465d"/>
<rect x="227.51" y="249.4" width="2.5" height="15.0" fill="#2ebd85"/>
<rect x="230.85" y="253.7" width="2.5" height="10.7" fill="#f6465d"/>
<rect x="234.18" y="232.0" width="2.5" height="32.4" fill="#2ebd85"/>
<rect x="237.51" y="250.0" width="2.5" height="14.4" fill="#2ebd85"/>
<rect x="240.85" y="250.7" width="2.5" height="13.7" fill="#f6465d"/>
<rect x="244.18" y="256.9" width="2.5" height="7.5" fill="#2ebd85"/>
<rect x="247.51" y="255.3" width="2.5" height="9.1" fill="#2ebd85"/>
<rect x="250.85" y="248.7" width="2.5" height="15.7" fill="#2ebd85"/>
<rect x="254.18" y="255.6" width="2.5" height="8.8" fill="#f6465d"/>
<rect x="257.51" y="254.3" width="2.5" height="10.1" fill="#2ebd85"/>
<rect x="260.85" y="256.0" width="2.5" height="8.4" fill="#2ebd85"/>
<rect x="264.18" y="256.4" width="2.5" height="8.0" fill="#2ebd85"/>
<rect x="267.51" y="250.3" width="2.5" height="14.1" fill="#2ebd85"/>
<rect x="270.85" y="253.7" width="2.5" height="10.7" fill="#f6465d"/>
<rect x="274.18" y="255.0" width="2.5" height="9.4" fill="#2ebd85"/>
<rect x="277.51" y="256.0" width="2.5" height="8.4" fill="#2ebd85"/>
<rect x="280.85" y="247.2" width="2.5" height="17.2" fill="#2ebd85"/>
<rect x="284.18" y="250.0" width="2.5" height="14.4" fill="#f6465d"/>
<rect x="287.51" y="254.7" width="2.5" height="9.7" fill="#2ebd85"/>
<rect x="290.85" y="253.7" width="2.5" height="10.7" fill="#f6465d"/>
<rect x="294.18" y="257.7" width="2.5" height="6.7" fill="#2ebd85"/>
<rect x="297.51" y="253.7" width="2.5" height="10.7" fill="#f6465d"/>
<rect x="300.85" y="258.2" width="2.5" height="6.2" fill="#2ebd85"/>
<rect x="304.18" y="255.3" width="2.5" height="9.1" fill="#2ebd85"/>
<rect x="307.51" y="254.7" width="2.5" height="9.7" fill="#f6465d"/>
<rect x="310.85" y="256.6" width="2.5" height="7.8" fill="#f6465d"/>
<rect x="314.18" y="257.3" width="2.5" height="7.1" fill="#f6465d"/>
<rect x="317.51" y="252.0" width="2.5" height="12.4" fill="#2ebd85"/>
<rect x="320.85" y="256.0" width="2.5" height="8.4" fill="#2ebd85"/>
<rect x="324.18" y="259.9" width="2.5" height="4.5" fill="#2ebd85"/>
<rect x="327.51" y="257.3" width="2.5" height="7.1" fill="#2ebd85"/>
<rect x="330.85" y="258.6" width="2.5" height="5.8" fill="#f6465d"/>
<rect x="334.18" y="259.5" width="2.5" height="4.9" fill="#2ebd85"/>
<rect x="337.51" y="252.0" width="2.5" height="12.4" fill="#2ebd85"/>
<rect x="340.85" y="257.3" width="2.5" height="7.1" fill="#2ebd85"/>
<rect x="344.18" y="252.7" width="2.5" height="11.7" fill="#f6465d"/>
<rect x="347.51" y="257.3" width="2.5" height="7.1" fill="#f6465d"/>
<rect x="350.85" y="254.7" width="2.5" height="9.7" fill="#2ebd85"/>
<rect x="354.18" y="253.3" width="2.5" height="11.1" fill="#f6465d"/>
<rect x="357.51" y="256.6" width="2.5" height="7.8" fill="#2ebd85"/>
<rect x="360.85" y="254.3" width="2.5" height="10.1" fill="#f6465d"/>
<rect x="364.18" y="258.6" width="2.5" height="5.8" fill="#2ebd85"/>
<rect x="367.51" y="257.9" width="2.5" height="6.5" fill="#2ebd85"/>
<rect x="370.85" y="257.7" width="2.5" height="6.7" fill="#2ebd85"/>
<rect x="374.18" y="252.0" width="2.5" height="12.4" fill="#2ebd85"/>
<rect x="377.51" y="256.0" width="2.5" height="8.4" fill="#f6465d"/>
<rect x="380.85" y="256.6" width="2.5" height="7.8" fill="#f6465d"/>
<rect x="384.18" y="256.6" width="2.5" height="7.8" fill="#2ebd85"/>
<rect x="387.51" y="254.0" width="2.5" height="10.4" fill="#f6465d"/>
<rect x="390.85" y="256.4" width="2.5" height="8.0" fill="#2ebd85"/>
<rect x="394.18" y="256.0" width="2.5" height="8.4" fill="#f6465d"/>
<rect x="397.51" y="256.0" width="2.5" height="8.4" fill="#2ebd85"/>
<rect x="400.85" y="256.6" width="2.5" height="7.8" fill="#f6465d"/>
<rect x="404.18" y="257.9" width="2.5" height="6.5" fill="#2ebd85"/>
<rect x="407.51" y="256.4" width="2.5" height="8.0" fill="#2ebd85"/>
<rect x="410.85" y="258.6" width="2.5" height="5.8" fill="#f6465d"/>
<rect x="414.18" y="257.3" width="2.5" height="7.1" fill="#2ebd85"/>
<rect x="417.51" y="260.6" width="2.5" height="3.8" fill="#f6465d"/>
<rect x="420.85" y="256.6" width="2.5" height="7.8" fill="#f6465d"/>
<rect x="424.18" y="257.9" width="2.5" height="6.5" fill="#f6465d"/>
<rect x="427.51" y="257.9" width="2.5" height="6.5" fill="#2ebd85"/>
<rect x="430.85" y="253.0" width="2.5" height="11.4" fill="#2ebd85"/>
<rect x="434.18" y="255.0" width="2.5" height="9.4" fill="#2ebd85"/>
<rect x="437.51" y="253.7" width="2.5" height="10.7" fill="#f6465d"/>
<rect x="440.85" y="241.9" width="2.5" height="22.5" fill="#f6465d"/>
<rect x="444.18" y="250.7" width="2.5" height="13.7" fill="#f6465d"/>
<rect x="447.51" y="250.7" width="2.5" height="13.7" fill="#f6465d"/>
<rect x="450.85" y="251.4" width="2.5" height="13.0" fill="#2ebd85"/>
<rect x="454.18" y="253.3" width="2.5" height="11.1" fill="#2ebd85"/>
<rect x="457.51" y="256.6" width="2.5" height="7.8" fill="#2ebd85"/>
<rect x="460.85" y="253.3" width="2.5" height="11.1" fill="#f6465d"/>
<rect x="464.18" y="256.6" width="2.5" height="7.8" fill="#2ebd85"/>
<rect x="467.51" y="256.0" width="2.5" height="8.4" fill="#f6465d"/>
<path d="M0.0 191.6 L2.1 191.6 L5.4 192.5 L8.8 192.3 L12.1 191.0 L15.4 189.7 L18.8 187.7 L22.1 184.8 L25.4 184.1 L28.8 183.6 L32.1 183.3 L35.4 183.6 L38.8 182.8 L42.1 182.3 L45.4 181.4 L48.8 179.9 L52.1 178.6 L55.4 175.9 L58.8 174.2 L62.1 174.0 L65.4 171.9 L68.8 169.1 L72.1 163.0 L75.4 157.2 L78.8 152.3 L82.1 144.8 L85.4 138.4 L88.8 133.5 L92.1 129.3 L95.4 127.2 L98.8 124.9 L102.1 123.9 L105.4 123.2 L108.8 119.8 L112.1 119.4 L115.4 120.0 L118.8 120.0 L122.1 121.3 L125.4 122.2 L128.8 123.1 L132.1 124.1 L135.4 125.4 L138.8 125.4 L142.1 125.0 L145.4 122.6 L148.8 119.2 L152.1 117.7 L155.4 117.9 L158.8 114.7 L162.1 114.0 L165.4 115.1 L168.8 117.3 L172.1 120.0 L175.4 121.7 L178.8 123.3 L182.1 124.9 L185.4 125.2 L188.8 128.3 L192.1 130.8 L195.4 132.7 L198.8 135.6 L202.1 139.8 L205.4 144.1 L208.8 147.4 L212.1 146.7 L215.4 147.3 L218.8 147.3 L222.1 147.9 L225.4 146.9 L228.8 146.3 L232.1 147.4 L235.4 148.4 L238.8 148.0 L242.1 149.1 L245.4 148.9 L248.8 147.6 L252.1 144.9 L255.4 141.3 L258.8 138.4 L262.1 135.7 L265.4 132.2 L268.8 127.6 L272.1 123.9 L275.4 121.5 L278.8 118.0 L282.1 114.1 L285.4 111.3 L288.8 108.3 L292.1 108.2 L295.4 107.2 L298.8 107.9 L302.1 108.1 L305.4 108.4 L308.8 109.0 L312.1 110.2 L315.4 110.4 L318.8 110.5 L322.1 109.0 L325.4 108.4 L328.8 108.2 L332.1 107.7 L335.4 106.4 L338.8 102.7 L342.1 99.1 L345.4 96.2 L348.8 94.2 L352.1 91.7 L355.4 89.2 L358.8 87.0 L362.1 88.2 L365.4 89.3 L368.8 89.6 L372.1 88.9 L375.4 87.8 L378.8 87.8 L382.1 89.1 L385.4 88.1 L388.8 89.5 L392.1 90.7 L395.4 93.6 L398.8 96.5 L402.1 98.4 L405.4 98.8 L408.8 99.0 L412.1 97.8 L415.4 96.6 L418.8 94.9 L422.1 94.6 L425.4 94.8 L428.8 94.1 L432.1 92.6 L435.4 90.1 L438.8 89.2 L442.1 89.1 L445.4 89.8 L448.8 90.4 L452.1 91.8 L455.4 94.6 L458.8 97.3 L462.1 100.6 L465.4 102.0 L468.8 103.6" fill="none" stroke="#f0b90b" stroke-width="0.75" stroke-linejoin="round"/>
<path d="M42.1 187.2 L45.4 186.5 L48.8 186.1 L52.1 185.5 L55.4 184.5 L58.8 183.8 L62.1 183.2 L65.4 182.4 L68.8 180.9 L72.1 178.7 L75.4 176.4 L78.8 173.9 L82.1 170.8 L85.4 168.4 L88.8 165.9 L92.1 163.3 L95.4 160.8 L98.8 158.3 L102.1 156.1 L105.4 153.6 L108.8 150.3 L112.1 147.9 L115.4 145.6 L118.8 143.0 L122.1 141.0 L125.4 139.3 L128.8 137.2 L132.1 134.7 L135.4 133.0 L138.8 131.5 L142.1 129.3 L145.4 126.6 L148.8 124.5 L152.1 122.8 L155.4 122.1 L158.8 121.1 L162.1 120.7 L165.4 120.9 L168.8 120.7 L172.1 120.8 L175.4 120.7 L178.8 121.0 L182.1 121.1 L185.4 121.1 L188.8 122.4 L192.1 123.8 L195.4 124.5 L198.8 125.1 L202.1 126.5 L205.4 127.5 L208.8 128.2 L212.1 129.0 L215.4 130.3 L218.8 130.6 L222.1 131.4 L225.4 132.7 L228.8 134.1 L232.1 136.1 L235.4 137.6 L238.8 138.7 L242.1 140.2 L245.4 141.1 L248.8 141.8 L252.1 141.9 L255.4 142.0 L258.8 142.3 L262.1 142.2 L265.4 142.3 L268.8 141.8 L272.1 140.5 L275.4 139.3 L278.8 137.9 L282.1 136.3 L285.4 134.2 L288.8 132.2 L292.1 130.8 L295.4 129.4 L298.8 128.2 L302.1 126.9 L305.4 125.2 L308.8 123.6 L312.1 122.2 L315.4 120.4 L318.8 118.8 L322.1 117.3 L325.4 115.5 L328.8 113.8 L332.1 112.4 L335.4 111.4 L338.8 109.6 L342.1 107.8 L345.4 106.3 L348.8 104.9 L352.1 103.8 L355.4 102.7 L358.8 101.7 L362.1 101.3 L365.4 100.9 L368.8 100.2 L372.1 99.5 L375.4 98.1 L378.8 97.3 L382.1 96.5 L385.4 95.7 L388.8 95.6 L392.1 95.1 L395.4 94.8 L398.8 94.2 L402.1 93.9 L405.4 93.6 L408.8 93.1 L412.1 92.7 L415.4 92.0 L418.8 91.6 L422.1 91.9 L425.4 92.7 L428.8 93.0 L432.1 92.6 L435.4 92.2 L438.8 92.0 L442.1 92.2 L445.4 92.4 L448.8 93.0 L452.1 93.6 L455.4 94.2 L458.8 94.9 L462.1 95.5 L465.4 95.8 L468.8 96.7" fill="none" stroke="#e23db6" stroke-width="0.75" stroke-linejoin="round"/>
<path d="M288.8 146.7 L292.1 145.9 L295.4 145.1 L298.8 144.4 L302.1 143.5 L305.4 142.7 L308.8 141.8 L312.1 141.1 L315.4 140.4 L318.8 139.5 L322.1 138.7 L325.4 137.8 L328.8 136.8 L332.1 135.9 L335.4 135.0 L338.8 134.0 L342.1 133.0 L345.4 132.1 L348.8 131.2 L352.1 130.2 L355.4 129.2 L358.8 128.2 L362.1 127.3 L365.4 126.4 L368.8 125.5 L372.1 124.5 L375.4 123.6 L378.8 122.7 L382.1 121.9 L385.4 121.1 L388.8 120.4 L392.1 119.6 L395.4 119.0 L398.8 118.5 L402.1 118.1 L405.4 117.8 L408.8 117.3 L412.1 117.1 L415.4 116.6 L418.8 116.3 L422.1 116.0 L425.4 115.8 L428.8 115.6 L432.1 115.1 L435.4 114.7 L438.8 114.5 L442.1 114.1 L445.4 113.9 L448.8 113.7 L452.1 113.5 L455.4 113.2 L458.8 112.9 L462.1 112.8 L465.4 112.5 L468.8 112.3" fill="none" stroke="#b48af5" stroke-width="0.75" stroke-linejoin="round"/>
<path d="M2.1 250.1 L5.4 251.3 L8.8 251.7 L12.1 251.5 L15.4 252.5 L18.8 253.0 L22.1 254.2 L25.4 252.6 L28.8 252.2 L32.1 252.6 L35.4 253.5 L38.8 253.0 L42.1 252.3 L45.4 252.0 L48.8 252.6 L52.1 252.4 L55.4 251.6 L58.8 250.8 L62.1 250.7 L65.4 248.6 L68.8 247.0 L72.1 242.6 L75.4 241.2 L78.8 240.7 L82.1 239.2 L85.4 238.3 L88.8 239.6 L92.1 241.0 L95.4 244.7 L98.8 243.6 L102.1 243.4 L105.4 245.0 L108.8 245.8 L112.1 245.7 L115.4 244.4 L118.8 245.5 L122.1 248.1 L125.4 249.4 L128.8 250.4 L132.1 251.3 L135.4 252.1 L138.8 253.6 L142.1 252.8 L145.4 252.1 L148.8 249.3 L152.1 248.2 L155.4 247.5 L158.8 248.4 L162.1 247.7 L165.4 246.7 L168.8 247.3 L172.1 250.3 L175.4 250.8 L178.8 251.7 L182.1 251.9 L185.4 252.2 L188.8 251.7 L192.1 249.6 L195.4 246.8 L198.8 245.4 L202.1 244.2 L205.4 242.9 L208.8 242.9 L212.1 245.3 L215.4 248.0 L218.8 250.6 L222.1 252.2 L225.4 253.2 L228.8 253.7 L232.1 253.7 L235.4 250.7 L238.8 249.7 L242.1 249.3 L245.4 249.9 L248.8 249.7 L252.1 249.6 L255.4 249.9 L258.8 253.1 L262.1 253.9 L265.4 254.7 L268.8 253.8 L272.1 253.6 L275.4 254.5 L278.8 254.5 L282.1 253.5 L285.4 252.7 L288.8 252.4 L292.1 252.9 L295.4 253.5 L298.8 253.3 L302.1 253.6 L305.4 254.8 L308.8 255.4 L312.1 255.7 L315.4 256.2 L318.8 255.4 L322.1 255.7 L325.4 256.0 L328.8 256.3 L332.1 256.8 L335.4 257.2 L338.8 256.5 L342.1 257.2 L345.4 256.8 L348.8 256.4 L352.1 256.0 L355.4 255.3 L358.8 254.8 L362.1 255.2 L365.4 255.4 L368.8 256.1 L372.1 256.2 L375.4 255.8 L378.8 256.2 L382.1 256.2 L385.4 256.5 L388.8 255.8 L392.1 255.6 L395.4 255.4 L398.8 255.9 L402.1 256.0 L405.4 256.2 L408.8 256.2 L412.1 256.8 L415.4 257.0 L418.8 257.6 L422.1 257.7 L425.4 257.9 L428.8 257.9 L432.1 257.4 L435.4 256.9 L438.8 256.4 L442.1 253.7 L445.4 252.9 L448.8 251.8 L452.1 250.9 L455.4 251.0 L458.8 251.2 L462.1 251.1 L465.4 253.2 L468.8 254.0" fill="none" stroke="#5fc4e6" stroke-width="0.9" stroke-linejoin="round"/>
<path d="M2.1 249.5 L5.4 250.1 L8.8 250.3 L12.1 250.2 L15.4 250.7 L18.8 250.9 L22.1 251.5 L25.4 251.3 L28.8 251.7 L32.1 252.2 L35.4 252.5 L38.8 252.8 L42.1 252.6 L45.4 253.1 L48.8 252.6 L52.1 252.3 L55.4 252.1 L58.8 252.1 L62.1 251.8 L65.4 250.5 L68.8 249.5 L72.1 247.6 L75.4 246.8 L78.8 246.2 L82.1 245.0 L85.4 244.5 L88.8 244.1 L92.1 244.0 L95.4 243.7 L98.8 242.4 L102.1 242.0 L105.4 242.1 L108.8 242.0 L112.1 242.6 L115.4 242.7 L118.8 245.1 L122.1 245.9 L125.4 246.4 L128.8 247.7 L132.1 248.5 L135.4 248.9 L138.8 249.0 L142.1 249.2 L145.4 250.1 L148.8 249.4 L152.1 249.3 L155.4 249.4 L158.8 250.2 L162.1 250.6 L165.4 249.8 L168.8 249.7 L172.1 249.8 L175.4 249.5 L178.8 249.6 L182.1 250.1 L185.4 250.0 L188.8 249.2 L192.1 248.5 L195.4 248.5 L198.8 248.1 L202.1 247.9 L205.4 247.4 L208.8 247.6 L212.1 248.5 L215.4 248.8 L218.8 248.7 L222.1 248.8 L225.4 248.7 L228.8 248.3 L232.1 248.3 L235.4 248.0 L238.8 248.9 L242.1 250.0 L245.4 251.0 L248.8 251.5 L252.1 251.7 L255.4 251.8 L258.8 251.9 L262.1 251.8 L265.4 252.0 L268.8 251.8 L272.1 251.6 L275.4 252.0 L278.8 252.2 L282.1 253.3 L285.4 253.3 L288.8 253.6 L292.1 253.3 L295.4 253.5 L298.8 253.9 L302.1 254.1 L305.4 254.1 L308.8 254.0 L312.1 254.1 L315.4 254.6 L318.8 254.4 L322.1 254.5 L325.4 254.8 L328.8 255.5 L332.1 256.1 L335.4 256.5 L338.8 256.3 L342.1 256.3 L345.4 256.2 L348.8 256.2 L352.1 256.1 L355.4 256.0 L358.8 256.0 L362.1 255.8 L365.4 256.3 L368.8 256.4 L372.1 256.3 L375.4 255.9 L378.8 255.7 L382.1 255.5 L385.4 255.8 L388.8 255.6 L392.1 255.9 L395.4 255.8 L398.8 255.9 L402.1 256.1 L405.4 256.2 L408.8 256.3 L412.1 256.3 L415.4 256.3 L418.8 256.5 L422.1 256.8 L425.4 257.0 L428.8 257.1 L432.1 256.8 L435.4 256.9 L438.8 256.7 L442.1 255.7 L445.4 255.3 L448.8 254.9 L452.1 254.4 L455.4 254.2 L458.8 254.0 L462.1 253.8 L465.4 253.5 L468.8 253.4" fill="none" stroke="#e8436b" stroke-width="0.8" stroke-linejoin="round"/>
<g font-size="6" fill="#b7bdc6">
<text x="515" y="86.4">120,000.00</text>
<text x="515" y="103.0">110,000.00</text>
<text x="515" y="121.1">100,000.00</text>
<text x="515" y="137.9">90,000.00</text>
<text x="515" y="155.9">80,000.00</text>
<text x="515" y="173.2">70,000.00</text>
<text x="515" y="190.6">60,000.00</text>
<text x="515" y="232.2">200K</text><text x="515" y="248.4">100K</text>
</g><g font-size="5.6" fill="#b7bdc6">
<text x="28.5" y="275.6" text-anchor="middle">10/03</text>
<text x="62" y="275.6" text-anchor="middle">11/02</text>
<text x="95" y="275.6" text-anchor="middle">12/02</text>
<text x="128.5" y="275.6" text-anchor="middle">2025</text>
<text x="165.3" y="275.6" text-anchor="middle">02/03</text>
<text x="195.5" y="275.6" text-anchor="middle">03/02</text>
<text x="228.5" y="275.6" text-anchor="middle">04/01</text>
<text x="261.8" y="275.6" text-anchor="middle">05/01</text>
<text x="298.8" y="275.6" text-anchor="middle">06/03</text>
<text x="332" y="275.6" text-anchor="middle">07/03</text>
<text x="365.2" y="275.6" text-anchor="middle">08/02</text>
<text x="398.5" y="275.6" text-anchor="middle">09/01</text>
<text x="432" y="275.6" text-anchor="middle">10/01</text>
<text x="468.8" y="275.6" text-anchor="middle">11/03</text>
<text x="502.2" y="275.6" text-anchor="middle">12/03</text>
</g>
<rect x="511.4" y="107.5" width="39.2" height="11.2" rx="1.8" fill="#f6465d"/>
<text x="531" y="115.2" font-size="6" font-weight="bold" fill="#fff" text-anchor="middle">103,698.02</text>
<g font-size="5.2" fill="#eaecef" font-weight="bold"><text x="402.3" y="75">126,199.63</text><text x="6" y="205">53,550.00</text></g>
<g stroke="#eaecef" stroke-width="0.6"><path d="M429.6 73.2H433.6"/><path d="M1 202.6H4.4"/></g>
</svg>
<!--/CHART-->

<!-- chart legends -->
<svg class="a" style="left:8.6px;top:68.6px" width="5" height="4" viewBox="0 0 5 4" fill="none" stroke="#848e9c" stroke-width="0.6"><path d="M0.8 1 L2.5 2.8 L4.2 1"/></svg>
<div class="a g" style="left:15.7px;top:67.4px;font-size:6px">2025/11/03</div>
<div class="a g" style="left:51.2px;top:67.4px;font-size:6px">开:</div>
<div class="a rd m" style="left:63px;top:67.4px;font-size:6px">110,540.69</div>
<div class="a g" style="left:98.4px;top:67.4px;font-size:6px">高:</div>
<div class="a rd m" style="left:109.8px;top:67.4px;font-size:6px">110,750.00</div>
<div class="a g" style="left:144.6px;top:67.4px;font-size:6px">低:</div>
<div class="a rd m" style="left:155.9px;top:67.4px;font-size:6px">103,605.00</div>
<div class="a g" style="left:191px;top:67.4px;font-size:6px">收:</div>
<div class="a rd m" style="left:202.7px;top:67.4px;font-size:6px">103,698.02</div>
<div class="a g" style="left:236px;top:67.4px;font-size:6px">涨跌幅:</div>
<div class="a rd m" style="left:261.5px;top:67.4px;font-size:6px">-6.19%</div>
<div class="a g" style="left:285px;top:67.4px;font-size:6px">振幅:</div>
<div class="a rd m" style="left:301.5px;top:67.4px;font-size:6px">6.46%</div>
<svg class="a" style="left:8.6px;top:82.2px" width="5" height="4" viewBox="0 0 5 4" fill="none" stroke="#848e9c" stroke-width="0.6"><path d="M0.8 1 L2.5 2.8 L4.2 1"/></svg>
<div class="a g" style="left:15.7px;top:81px;font-size:6px">MA(7):</div>
<div class="a m" style="left:38px;top:81px;font-size:6px;color:#f0b90b">109,022.40</div>
<div class="a g" style="left:72.4px;top:81px;font-size:6px">MA(25):</div>
<div class="a m" style="left:98px;top:81px;font-size:6px;color:#e23db6">112,898.95</div>
<div class="a g" style="left:132.3px;top:81px;font-size:6px">MA(99):</div>
<div class="a m" style="left:158px;top:81px;font-size:6px;color:#b48af5">103,870.81</div>
<svg class="a" style="left:8.6px;top:221.4px" width="5" height="4" viewBox="0 0 5 4" fill="none" stroke="#848e9c" stroke-width="0.6"><path d="M0.8 1 L2.5 2.8 L4.2 1"/></svg>
<div class="a g" style="left:16px;top:220.2px;font-size:6px">Vol(BTC):</div>
<div class="a b" style="left:44.9px;top:220.2px;font-size:6px">44.974K</div>
<div class="a g" style="left:72px;top:220.2px;font-size:6px">Vol(USDT)</div>
<div class="a b" style="left:102.9px;top:220.2px;font-size:6px">4.79B</div>
<div class="a m" style="left:122.8px;top:220.2px;font-size:6px;color:#5fc4e6">57.41K</div>
<div class="a m" style="left:145px;top:220.2px;font-size:6px;color:#e8436b">61.704K</div>
<!-- volume expand handle -->
<div class="a" style="left:1.6px;top:242px;width:5px;height:16px;background:#1e2329;border:0.6px solid #2b3139;border-radius:1.5px"></div>
<svg class="a" style="left:2.4px;top:247.6px" width="4" height="5" viewBox="0 0 4 5" fill="none" stroke="#848e9c" stroke-width="0.6"><path d="M1 0.8 L2.8 2.5 L1 4.2"/></svg>
<!-- note icon -->
<div class="a" style="left:468px;top:200.6px;width:8.6px;height:9px;background:#1e2329;border:0.5px solid #2b3139;border-radius:1.5px"></div>
<div class="a" style="left:468.8px;top:203px;width:1.2px;height:4.6px;background:#f0b90b;border-radius:0.4px"></div>
<div class="a" style="left:470.6px;top:202px;width:4.2px;height:6px;background:#747d8b;border-radius:0.6px"></div>
<div class="a" style="left:471.8px;top:204px;width:1.8px;height:2.4px;background:#1e2329"></div>
<div class="a" style="left:475.4px;top:197.6px;width:4.4px;height:4.4px;border-radius:50%;background:#f7d23a"></div>
<!-- fit icon on time axis -->
<svg class="a" style="left:528px;top:269.6px" width="8" height="8" viewBox="0 0 8 8" fill="none" stroke="#848e9c" stroke-width="0.7"><path d="M1 0.8H7M1 7.2H7M4 1.6V6.4M2.6 3L4 1.6L5.4 3M2.6 5L4 6.4L5.4 5"/></svg>

<!-- ===== order form panel ===== -->
<div class="p" id="form" style="left:0;top:283.3px;width:552px;height:168.7px;border-radius:0 4px 4px 0"></div>

<!-- ===== bottom panel ===== -->
<!--FORM-->
<div class="p" id="bottom" style="left:-6px;top:454.1px;width:760px;height:27px;border-radius:4px 4px 0 0"></div>

<!-- ===== right: market list ===== -->
<div class="p" id="mk" style="left:554.2px;top:0;width:199.8px;height:200px;border-radius:0 0 4px 4px"></div>



<!-- order form -->
<div class="a b" style="left:8.2px;top:291px;font-size:7px">现货</div>
<div class="a g" style="left:34.3px;top:291px;font-size:7px">全仓</div>
<div class="a g" style="left:60.6px;top:291px;font-size:7px">逐仓</div>
<div class="a g" style="left:87px;top:291px;font-size:7px">网格</div>
<div class="a" style="left:11px;top:303.7px;width:8px;height:1.4px;background:#fcd535"></div>
<div class="ln" style="left:0;top:305px;width:552px;height:1.2px"></div>
<div class="a b" style="left:8.2px;top:312.3px;font-size:7px">限价</div>
<div class="a g" style="left:30.7px;top:312.3px;font-size:7px">市价</div>
<div class="a g" style="left:52.8px;top:312.3px;font-size:7px">限价止盈止损</div>
<div class="a" style="left:97.2px;top:315.4px;width:0;height:0;border-left:2px solid transparent;border-right:2px solid transparent;border-top:2.2px solid #848e9c"></div>
<svg class="a" style="left:111px;top:312.3px" width="7.4" height="7.4" viewBox="0 0 7.4 7.4" fill="none" stroke="#848e9c" stroke-width="0.6"><circle cx="3.7" cy="3.7" r="3.1"/><path d="M3.7 3.3V5.4M3.7 2V2.6"/></svg>
<div class="a" style="left:8.2px;top:327.1px;width:235.4px;height:19.6px;border:0.7px solid #3f4650;border-radius:3px"></div>
<div class="a" style="left:230.4px;top:327.4px;width:0.7px;height:19px;background:#3f4650"></div>
<div class="a" style="left:230.4px;top:336.7px;width:13px;height:0.7px;background:#3f4650"></div>
<div class="a" style="left:235.4px;top:331.4px;width:0;height:0;border-left:2px solid transparent;border-right:2px solid transparent;border-bottom:2.2px solid #848e9c;margin-left:-0.3px"></div>
<div class="a" style="left:235.4px;top:340.2px;width:0;height:0;border-left:2px solid transparent;border-right:2px solid transparent;border-top:2.2px solid #848e9c;margin-left:-0.3px"></div>
<div class="a g" style="left:13.0px;top:333px;font-size:7px">价格</div>
<div class="a b r" style="left:120.0px;width:106.7px;top:333.2px;font-size:7px">103,702.07&nbsp; USDT</div>
<div class="a b" style="left:248.4px;top:327.1px;width:23.6px;height:19.6px;border:0.7px solid #3f4650;border-radius:3px;font-size:6.4px;text-align:center;padding-top:5.4px">BBO</div>
<div class="a" style="left:8.2px;top:351.2px;width:263.8px;height:19.3px;border:0.7px solid #3f4650;border-radius:3px"></div>
<div class="a" style="left:258.4px;top:351.5px;width:0.7px;height:18.7px;background:#3f4650"></div>
<div class="a" style="left:258.4px;top:360.5px;width:13.4px;height:0.7px;background:#3f4650"></div>
<div class="a" style="left:263.6px;top:355.3px;width:0;height:0;border-left:2px solid transparent;border-right:2px solid transparent;border-bottom:2.2px solid #848e9c;margin-left:-0.3px"></div>
<div class="a" style="left:263.6px;top:364.2px;width:0;height:0;border-left:2px solid transparent;border-right:2px solid transparent;border-top:2.2px solid #848e9c;margin-left:-0.3px"></div>
<div class="a g" style="left:13.0px;top:357.1px;font-size:7px">数量</div>
<div class="a b r" style="left:200.0px;width:55.3px;top:357.2px;font-size:7px">BTC</div>
<div class="a" style="left:10.3px;top:380px;width:260px;height:0.8px;background:#474d57"></div>
<div class="a" style="left:75.1px;top:379px;width:2.8px;height:2.8px;background:#181a20;border:0.6px solid #5e6673;transform:rotate(45deg)"></div>
<div class="a" style="left:139.4px;top:379px;width:2.8px;height:2.8px;background:#181a20;border:0.6px solid #5e6673;transform:rotate(45deg)"></div>
<div class="a" style="left:204.5px;top:379px;width:2.8px;height:2.8px;background:#181a20;border:0.6px solid #5e6673;transform:rotate(45deg)"></div>
<div class="a" style="left:268.8px;top:379px;width:2.8px;height:2.8px;background:#181a20;border:0.6px solid #5e6673;transform:rotate(45deg)"></div>
<div class="a" style="left:8.0px;top:378.1px;width:4.6px;height:4.6px;background:#181a20;border:1px solid #eaecef;transform:rotate(45deg)"></div>
<div class="a" style="left:9.8px;top:391.1px;width:7px;height:7.6px;border:0.7px solid #848e9c;border-radius:1px"></div>
<div class="a b" style="left:21.3px;top:391.8px;font-size:6px;border-bottom:0.5px dotted #848e9c;padding-bottom:0.3px">止盈/止损</div>
<div class="a g" style="left:8.1px;top:405.6px;font-size:6px">可用</div>
<div class="a b r" style="left:200.0px;width:72px;top:406.3px;font-size:6px">- USDT</div>
<div class="a g" style="left:8.1px;top:416.6px;font-size:6px;border-bottom:0.5px dotted #848e9c;padding-bottom:0.3px">可买</div>
<div class="a b r" style="left:200.0px;width:72px;top:416.8px;font-size:6px">-- BTC</div>
<div class="a b" style="left:8.1px;top:428px;width:263.9px;height:17.7px;background:#2ebd85;border-radius:2.6px;text-align:center;font-size:7px;padding-top:5.3px;color:#fff">登录</div>
<div class="a" style="left:280.7px;top:327.1px;width:235.4px;height:19.6px;border:0.7px solid #3f4650;border-radius:3px"></div>
<div class="a" style="left:502.9px;top:327.4px;width:0.7px;height:19px;background:#3f4650"></div>
<div class="a" style="left:502.9px;top:336.7px;width:13px;height:0.7px;background:#3f4650"></div>
<div class="a" style="left:507.9px;top:331.4px;width:0;height:0;border-left:2px solid transparent;border-right:2px solid transparent;border-bottom:2.2px solid #848e9c;margin-left:-0.3px"></div>
<div class="a" style="left:507.9px;top:340.2px;width:0;height:0;border-left:2px solid transparent;border-right:2px solid transparent;border-top:2.2px solid #848e9c;margin-left:-0.3px"></div>
<div class="a g" style="left:285.5px;top:333px;font-size:7px">价格</div>
<div class="a b r" style="left:392.5px;width:106.7px;top:333.2px;font-size:7px">103,702.07&nbsp; USDT</div>
<div class="a b" style="left:520.9px;top:327.1px;width:23.6px;height:19.6px;border:0.7px solid #3f4650;border-radius:3px;font-size:6.4px;text-align:center;padding-top:5.4px">BBO</div>
<div class="a" style="left:280.7px;top:351.2px;width:263.8px;height:19.3px;border:0.7px solid #3f4650;border-radius:3px"></div>
<div class="a" style="left:530.9px;top:351.5px;width:0.7px;height:18.7px;background:#3f4650"></div>
<div class="a" style="left:530.9px;top:360.5px;width:13.4px;height:0.7px;background:#3f4650"></div>
<div class="a" style="left:536.1px;top:355.3px;width:0;height:0;border-left:2px solid transparent;border-right:2px solid transparent;border-bottom:2.2px solid #848e9c;margin-left:-0.3px"></div>
<div class="a" style="left:536.1px;top:364.2px;width:0;height:0;border-left:2px solid transparent;border-right:2px solid transparent;border-top:2.2px solid #848e9c;margin-left:-0.3px"></div>
<div class="a g" style="left:285.5px;top:357.1px;font-size:7px">数量</div>
<div class="a b r" style="left:472.5px;width:55.3px;top:357.2px;font-size:7px">BTC</div>
<div class="a" style="left:282.8px;top:380px;width:260px;height:0.8px;background:#474d57"></div>
<div class="a" style="left:347.6px;top:379px;width:2.8px;height:2.8px;background:#181a20;border:0.6px solid #5e6673;transform:rotate(45deg)"></div>
<div class="a" style="left:411.9px;top:379px;width:2.8px;height:2.8px;background:#181a20;border:0.6px solid #5e6673;transform:rotate(45deg)"></div>
<div class="a" style="left:477.0px;top:379px;width:2.8px;height:2.8px;background:#181a20;border:0.6px solid #5e6673;transform:rotate(45deg)"></div>
<div class="a" style="left:541.3px;top:379px;width:2.8px;height:2.8px;background:#181a20;border:0.6px solid #5e6673;transform:rotate(45deg)"></div>
<div class="a" style="left:280.5px;top:378.1px;width:4.6px;height:4.6px;background:#181a20;border:1px solid #eaecef;transform:rotate(45deg)"></div>
<div class="a" style="left:282.3px;top:391.1px;width:7px;height:7.6px;border:0.7px solid #848e9c;border-radius:1px"></div>
<div class="a b" style="left:293.8px;top:391.8px;font-size:6px;border-bottom:0.5px dotted #848e9c;padding-bottom:0.3px">止盈/止损</div>
<div class="a g" style="left:280.6px;top:405.6px;font-size:6px">可用</div>
<div class="a b r" style="left:472.5px;width:72px;top:406.3px;font-size:6px">- BTC</div>
<div class="a g" style="left:280.6px;top:416.6px;font-size:6px;border-bottom:0.5px dotted #848e9c;padding-bottom:0.3px">可卖</div>
<div class="a b r" style="left:472.5px;width:72px;top:416.8px;font-size:6px">-- USDT</div>
<div class="a b" style="left:280.6px;top:428px;width:263.9px;height:17.7px;background:#f6465d;border-radius:2.6px;text-align:center;font-size:7px;padding-top:5.3px;color:#fff">登录</div>
<div class="ln" style="left:0;top:473.8px;width:754px;height:1.2px"></div>
<!--RIGHT-->
<div class="a" style="left:562.4px;top:-8px;width:183.4px;height:19.4px;border:0.7px solid #3f4650;border-radius:3px"></div>
<svg class="a" style="left:569.4px;top:0.4px" width="7" height="7" viewBox="0 0 7 7" fill="none" stroke="#848e9c" stroke-width="0.7"><circle cx="3" cy="3" r="2.5"/><path d="M4.9 4.9L6.4 6.4"/></svg>
<div class="a" style="left:581.1px;top:0.8px;font-size:7px;color:#76808f">查询</div>
<svg class="a" style="left:562.6px;top:18.4px" width="7" height="7" viewBox="0 0 6.4 6.4" fill="none" stroke="#848e9c" stroke-width="0.55"><path d="M3.2 0.5L4 2.3L6 2.5L4.5 3.8L4.95 5.8L3.2 4.75L1.45 5.8L1.9 3.8L0.4 2.5L2.4 2.3Z"/></svg>
<div class="a b" style="left:577.8px;top:18.3px;font-size:7px;color:#b7bdc6">新币</div>
<div class="a g" style="left:600.2px;top:18.7px;font-size:6.5px">USDC</div>
<div class="a b" style="left:627.3px;top:18.7px;font-size:6.5px">USDT</div>
<div class="a g" style="left:653px;top:18.7px;font-size:6.5px">FDUSD</div>
<div class="a g" style="left:684px;top:18.7px;font-size:6.5px">BNB</div>
<div class="a g" style="left:706.3px;top:18.7px;font-size:6.5px">BTC</div>
<div class="a" style="left:727px;top:18.7px;font-size:6.5px;color:#5e6673;width:15px;overflow:hidden;-webkit-mask-image:linear-gradient(90deg,#000 30%,transparent 100%)">ALTS</div>
<svg class="a" style="left:742.4px;top:19px" width="4" height="6" viewBox="0 0 4 6" fill="none" stroke="#848e9c" stroke-width="0.7"><path d="M0.8 0.6L3.2 3L0.8 5.4"/></svg>
<div class="a" style="left:632px;top:29.7px;width:8.2px;height:1.4px;background:#fcd535"></div>
<div class="ln" style="left:554.2px;top:31px;width:199.8px;height:1.2px"></div>
<div class="a g" style="left:562.4px;top:39.2px;font-size:5.8px">交易对</div>
<svg class="a" style="left:580.8px;top:39.8px" width="2.4" height="4.8" viewBox="0 0 2.4 4.8"><path d="M1.2 0.4L2.2 1.6H0.2Z M1.2 4.4L2.2 3.2H0.2Z" fill="#5e6673"/></svg>
<div class="a g" style="left:663px;top:39.1px;font-size:6px">最新价格</div>
<svg class="a" style="left:688.4px;top:39.8px" width="2.4" height="4.8" viewBox="0 0 2.4 4.8"><path d="M1.2 0.4L2.2 1.6H0.2Z M1.2 4.4L2.2 3.2H0.2Z" fill="#5e6673"/></svg>
<div class="a g" style="left:692.6px;top:39.1px;font-size:6px">/ 24 小时涨跌</div>
<svg class="a" style="left:733.6px;top:39.8px" width="2.4" height="4.8" viewBox="0 0 2.4 4.8"><path d="M1.2 0.4L2.2 1.6H0.2Z M1.2 4.4L2.2 3.2H0.2Z" fill="#5e6673"/></svg>
<svg class="a" style="left:740.6px;top:38.8px" width="6" height="6.4" viewBox="0 0 6 6.4" fill="none" stroke="#848e9c" stroke-width="0.55"><path d="M0.5 2.2A2 2 0 0 1 4 1.2M5.5 4.2A2 2 0 0 1 2 5.2M3.2 0.4L4.1 1.3L3 2M2.8 6L1.9 5.1L3 4.4"/></svg>
<svg class="a" style="left:562.5px;top:52.5px" width="6.7" height="6.7" viewBox="0 0 6.4 6.4" fill="none" stroke="#848e9c" stroke-width="0.55"><path d="M3.2 0.5L4 2.3L6 2.5L4.5 3.8L4.95 5.8L3.2 4.75L1.45 5.8L1.9 3.8L0.4 2.5L2.4 2.3Z"/></svg>
<svg class="a" style="left:572.5px;top:52.55px" width="6.7" height="6.7" viewBox="-3.55 -3.55 7.1 7.1"><circle r="3.5" fill="#fff"/><ellipse rx="2.5" ry="1.7" fill="#b57bff"/></svg>
<div class="a b" style="left:582px;top:53.0px;font-size:5.7px">0G/USDT<span style="display:inline-block;margin-left:3.6px;background:#2b3139;color:#d5d9de;font-size:5.5px;font-weight:normal;padding:0.8px 1.5px 0.8px;border-radius:1px;position:relative;top:-0.1px">5x</span></div>
<div class="a b r" style="left:650px;width:59.2px;top:52.9px;font-size:6px">1.331</div>
<div class="a rd m r" style="left:712px;width:30.8px;top:52.9px;font-size:6px">-8.46%</div>
<svg class="a" style="left:562.5px;top:64.5px" width="6.7" height="6.7" viewBox="0 0 6.4 6.4" fill="none" stroke="#848e9c" stroke-width="0.55"><path d="M3.2 0.5L4 2.3L6 2.5L4.5 3.8L4.95 5.8L3.2 4.75L1.45 5.8L1.9 3.8L0.4 2.5L2.4 2.3Z"/></svg>
<svg class="a" style="left:572.5px;top:64.50px" width="6.7" height="6.7" viewBox="-3.55 -3.55 7.1 7.1"><circle r="3.25" fill="#1c1416" stroke="#6b7480" stroke-width="0.5"/><path d="M-2.4 -0.6A2.5 2.5 0 0 1 2.4 -0.6Z" fill="#d23a30"/><circle cy="0.7" r="1.9" fill="#f4efec"/></svg>
<div class="a b" style="left:582px;top:64.9px;font-size:5.7px">1000CAT/USDT<span style="display:inline-block;margin-left:3.6px;background:#2b3139;color:#d5d9de;font-size:5.5px;font-weight:normal;padding:0.8px 1.5px 0.8px;border-radius:1px;position:relative;top:-0.1px">5x</span></div>
<div class="a b r" style="left:650px;width:59.2px;top:64.8px;font-size:6px">0.00425</div>
<div class="a rd m r" style="left:712px;width:30.8px;top:64.8px;font-size:6px">-7.61%</div>
<svg class="a" style="left:562.5px;top:76.5px" width="6.7" height="6.7" viewBox="0 0 6.4 6.4" fill="none" stroke="#848e9c" stroke-width="0.55"><path d="M3.2 0.5L4 2.3L6 2.5L4.5 3.8L4.95 5.8L3.2 4.75L1.45 5.8L1.9 3.8L0.4 2.5L2.4 2.3Z"/></svg>
<svg class="a" style="left:572.5px;top:76.45px" width="6.7" height="6.7" viewBox="-3.55 -3.55 7.1 7.1"><circle r="3.25" fill="#1a1613" stroke="#6b7480" stroke-width="0.5"/><path d="M-0.3 -2.1Q1 -1.8 0.8 0.2L0.6 2.1H-0.6L-0.4 0Q-1 -1 -0.3 -2.1Z" fill="#c98a45"/></svg>
<div class="a b" style="left:582px;top:76.9px;font-size:5.7px">1000CHEEMS/USDT<span style="display:inline-block;margin-left:3.6px;background:#2b3139;color:#d5d9de;font-size:5.5px;font-weight:normal;padding:0.8px 1.5px 0.8px;border-radius:1px;position:relative;top:-0.1px">5x</span></div>
<div class="a b r" style="left:650px;width:59.2px;top:76.8px;font-size:6px">0.001294</div>
<div class="a rd m r" style="left:712px;width:30.8px;top:76.8px;font-size:6px">-0.38%</div>
<svg class="a" style="left:562.5px;top:88.4px" width="6.7" height="6.7" viewBox="0 0 6.4 6.4" fill="none" stroke="#848e9c" stroke-width="0.55"><path d="M3.2 0.5L4 2.3L6 2.5L4.5 3.8L4.95 5.8L3.2 4.75L1.45 5.8L1.9 3.8L0.4 2.5L2.4 2.3Z"/></svg>
<svg class="a" style="left:572.5px;top:88.40px" width="6.7" height="6.7" viewBox="-3.55 -3.55 7.1 7.1"><circle r="3.5" fill="#f7931a"/><path d="M0 -2.2V2.2M1.1 -1.1Q0 -1.8 -0.9 -1Q-1.3 -0.2 0 0Q1.4 0.3 0.9 1.1Q0 1.8 -1.1 1.1" fill="none" stroke="#fff" stroke-width="0.6"/></svg>
<div class="a b" style="left:582px;top:88.8px;font-size:5.7px">1000SATS/USDT<span style="display:inline-block;margin-left:3.6px;background:#2b3139;color:#d5d9de;font-size:5.5px;font-weight:normal;padding:0.8px 1.5px 0.8px;border-radius:1px;position:relative;top:-0.1px">5x</span></div>
<div class="a b r" style="left:650px;width:59.2px;top:88.8px;font-size:6px">0.00001976</div>
<div class="a rd m r" style="left:712px;width:30.8px;top:88.8px;font-size:6px">-5.27%</div>
<svg class="a" style="left:562.5px;top:100.3px" width="6.7" height="6.7" viewBox="0 0 6.4 6.4" fill="none" stroke="#848e9c" stroke-width="0.55"><path d="M3.2 0.5L4 2.3L6 2.5L4.5 3.8L4.95 5.8L3.2 4.75L1.45 5.8L1.9 3.8L0.4 2.5L2.4 2.3Z"/></svg>
<svg class="a" style="left:572.5px;top:100.35px" width="6.7" height="6.7" viewBox="-3.55 -3.55 7.1 7.1"><circle r="3.25" fill="#000" stroke="#6b7480" stroke-width="0.5"/></svg>
<div class="a b" style="left:582px;top:100.8px;font-size:5.7px">1INCH/USDT<span style="display:inline-block;margin-left:3.6px;background:#2b3139;color:#d5d9de;font-size:5.5px;font-weight:normal;padding:0.8px 1.5px 0.8px;border-radius:1px;position:relative;top:-0.1px">5x</span></div>
<div class="a b r" style="left:650px;width:59.2px;top:100.7px;font-size:6px">0.1482</div>
<div class="a rd m r" style="left:712px;width:30.8px;top:100.7px;font-size:6px">-5.96%</div>
<svg class="a" style="left:562.4px;top:112.2px" width="6.9" height="6.9" viewBox="0 0 6.4 6.4"><path d="M3.2 0.5L4 2.3L6 2.5L4.5 3.8L4.95 5.8L3.2 4.75L1.45 5.8L1.9 3.8L0.4 2.5L2.4 2.3Z" fill="#f0b90b" stroke="#f0b90b" stroke-width="0.4"/></svg>
<svg class="a" style="left:572.5px;top:112.30px" width="6.7" height="6.7" viewBox="-3.55 -3.55 7.1 7.1"><circle r="3.5" fill="#f3d9a6"/><circle cy="0.3" r="2.3" fill="#ee9a2f"/><circle cx="-0.8" cy="-0.2" r="0.45" fill="#4a2a10"/><circle cx="0.8" cy="-0.2" r="0.45" fill="#4a2a10"/><ellipse cy="1" rx="0.9" ry="0.6" fill="#fbe6c4"/></svg>
<div class="a b" style="left:582px;top:112.8px;font-size:5.7px">1MBABYDOGE/USDT<span style="display:inline-block;margin-left:3.6px;background:#2b3139;color:#d5d9de;font-size:5.5px;font-weight:normal;padding:0.8px 1.5px 0.8px;border-radius:1px;position:relative;top:-0.1px">5x</span></div>
<div class="a b r" style="left:650px;width:59.2px;top:112.7px;font-size:6px">0.0008238</div>
<div class="a rd m r" style="left:712px;width:30.8px;top:112.7px;font-size:6px">-6.52%</div>
<svg class="a" style="left:562.5px;top:124.2px" width="6.7" height="6.7" viewBox="0 0 6.4 6.4" fill="none" stroke="#848e9c" stroke-width="0.55"><path d="M3.2 0.5L4 2.3L6 2.5L4.5 3.8L4.95 5.8L3.2 4.75L1.45 5.8L1.9 3.8L0.4 2.5L2.4 2.3Z"/></svg>
<svg class="a" style="left:572.5px;top:124.25px" width="6.7" height="6.7" viewBox="-3.55 -3.55 7.1 7.1"><circle r="3.5" fill="#e9ecef"/><path d="M-1.8 -1.8L1.8 1.8M1.8 -1.8L-1.8 1.8" stroke="#4b535e" stroke-width="0.9"/><circle r="0.9" fill="#e9ecef"/><circle cx="1.6" cy="0" r="0.7" fill="#3fb27f"/><circle cx="-1.6" cy="0" r="0.7" fill="#e0523f"/></svg>
<div class="a b" style="left:582px;top:124.7px;font-size:5.7px">2Z/USDT<span style="display:inline-block;margin-left:3.6px;background:#2b3139;color:#d5d9de;font-size:5.5px;font-weight:normal;padding:0.8px 1.5px 0.8px;border-radius:1px;position:relative;top:-0.1px">5x</span></div>
<div class="a b r" style="left:650px;width:59.2px;top:124.6px;font-size:6px">0.15537</div>
<div class="a rd m r" style="left:712px;width:30.8px;top:124.6px;font-size:6px">-6.52%</div>
<svg class="a" style="left:562.5px;top:136.2px" width="6.7" height="6.7" viewBox="0 0 6.4 6.4" fill="none" stroke="#848e9c" stroke-width="0.55"><path d="M3.2 0.5L4 2.3L6 2.5L4.5 3.8L4.95 5.8L3.2 4.75L1.45 5.8L1.9 3.8L0.4 2.5L2.4 2.3Z"/></svg>
<svg class="a" style="left:572.5px;top:136.20px" width="6.7" height="6.7" viewBox="-3.55 -3.55 7.1 7.1"><circle r="3.5" fill="#4b2fe8"/><path d="M-1.6 1.8V-0.2A1.6 1.6 0 0 1 1.6 -0.2V1.8H0.7V0.4H-0.7V1.8Z" fill="#efe9ff"/></svg>
<div class="a b" style="left:582px;top:136.6px;font-size:5.7px">A2Z/USDT<span style="display:inline-block;margin-left:3.6px;background:#2b3139;color:#d5d9de;font-size:5.5px;font-weight:normal;padding:0.8px 1.5px 0.8px;border-radius:1px;position:relative;top:-0.1px">5x</span></div>
<div class="a b r" style="left:650px;width:59.2px;top:136.5px;font-size:6px">0.004085</div>
<div class="a gr m r" style="left:712px;width:30.8px;top:136.5px;font-size:6px">+9.87%</div>
<svg class="a" style="left:562.5px;top:148.2px" width="6.7" height="6.7" viewBox="0 0 6.4 6.4" fill="none" stroke="#848e9c" stroke-width="0.55"><path d="M3.2 0.5L4 2.3L6 2.5L4.5 3.8L4.95 5.8L3.2 4.75L1.45 5.8L1.9 3.8L0.4 2.5L2.4 2.3Z"/></svg>
<svg class="a" style="left:572.5px;top:148.15px" width="6.7" height="6.7" viewBox="-3.55 -3.55 7.1 7.1"><circle r="3.5" fill="#9896ff"/><path d="M-2.4 0.4L0 -2L2.4 0.4L0 2.2Z" fill="#ecebff"/><path d="M-2.6 0.3H2.6" stroke="#9896ff" stroke-width="0.5"/></svg>
<div class="a b" style="left:582px;top:148.6px;font-size:5.7px">AAVE/USDT<span style="display:inline-block;margin-left:3.6px;background:#2b3139;color:#d5d9de;font-size:5.5px;font-weight:normal;padding:0.8px 1.5px 0.8px;border-radius:1px;position:relative;top:-0.1px">5x</span></div>
<div class="a b r" style="left:650px;width:59.2px;top:148.5px;font-size:6px">195.86</div>
<div class="a rd m r" style="left:712px;width:30.8px;top:148.5px;font-size:6px">-7.10%</div>
<svg class="a" style="left:562.5px;top:160.1px" width="6.7" height="6.7" viewBox="0 0 6.4 6.4" fill="none" stroke="#848e9c" stroke-width="0.55"><path d="M3.2 0.5L4 2.3L6 2.5L4.5 3.8L4.95 5.8L3.2 4.75L1.45 5.8L1.9 3.8L0.4 2.5L2.4 2.3Z"/></svg>
<svg class="a" style="left:572.5px;top:160.10px" width="6.7" height="6.7" viewBox="-3.55 -3.55 7.1 7.1"><circle r="3.5" fill="#f2a7b8"/><circle r="2.5" fill="#e8406a"/><path d="M0 -1.7L1.5 1.2H-1.5Z" fill="none" stroke="#ffe3ea" stroke-width="0.55"/></svg>
<div class="a b" style="left:582px;top:160.5px;font-size:5.7px">ACA/USDT<span style="display:inline-block;margin-left:3.6px;background:#2b3139;color:#d5d9de;font-size:5.5px;font-weight:normal;padding:0.8px 1.5px 0.8px;border-radius:1px;position:relative;top:-0.1px">5x</span></div>
<div class="a b r" style="left:650px;width:59.2px;top:160.4px;font-size:6px">0.0153</div>
<div class="a rd m r" style="left:712px;width:30.8px;top:160.4px;font-size:6px">-5.56%</div>
<svg class="a" style="left:562.5px;top:172.1px" width="6.7" height="6.7" viewBox="0 0 6.4 6.4" fill="none" stroke="#848e9c" stroke-width="0.55"><path d="M3.2 0.5L4 2.3L6 2.5L4.5 3.8L4.95 5.8L3.2 4.75L1.45 5.8L1.9 3.8L0.4 2.5L2.4 2.3Z"/></svg>
<svg class="a" style="left:572.5px;top:172.05px" width="6.7" height="6.7" viewBox="-3.55 -3.55 7.1 7.1"><circle r="3.25" fill="#22252b" stroke="#6b7480" stroke-width="0.5"/><path d="M0 -1.7L1.7 1.6H-1.7Z" fill="#d79a3c"/><path d="M-1.6 1.9H1.6" stroke="#8a8f98" stroke-width="0.5"/></svg>
<div class="a b" style="left:582px;top:172.5px;font-size:5.7px">ACE/USDT<span style="display:inline-block;margin-left:3.6px;background:#2b3139;color:#d5d9de;font-size:5.5px;font-weight:normal;padding:0.8px 1.5px 0.8px;border-radius:1px;position:relative;top:-0.1px">5x</span></div>
<div class="a b r" style="left:650px;width:59.2px;top:172.4px;font-size:6px">0.245</div>
<div class="a rd m r" style="left:712px;width:30.8px;top:172.4px;font-size:6px">-3.92%</div>
<svg class="a" style="left:562.5px;top:184.0px" width="6.7" height="6.7" viewBox="0 0 6.4 6.4" fill="none" stroke="#848e9c" stroke-width="0.55"><path d="M3.2 0.5L4 2.3L6 2.5L4.5 3.8L4.95 5.8L3.2 4.75L1.45 5.8L1.9 3.8L0.4 2.5L2.4 2.3Z"/></svg>
<svg class="a" style="left:572.5px;top:184.00px" width="6.7" height="6.7" viewBox="-3.55 -3.55 7.1 7.1"><circle r="3.25" fill="#1d2f7a" stroke="#6b7480" stroke-width="0.5"/><path d="M0 -2L2 1.5H-2Z" fill="#eef1ff"/><path d="M0 -0.4L0.9 1.1H-0.9Z" fill="#1d2f7a"/></svg>
<div class="a b" style="left:582px;top:184.4px;font-size:5.7px">ACH/USDT<span style="display:inline-block;margin-left:3.6px;background:#2b3139;color:#d5d9de;font-size:5.5px;font-weight:normal;padding:0.8px 1.5px 0.8px;border-radius:1px;position:relative;top:-0.1px">5x</span></div>
<div class="a b r" style="left:650px;width:59.2px;top:184.3px;font-size:6px">0.01066</div>
<div class="a rd m r" style="left:712px;width:30.8px;top:184.3px;font-size:6px">-6.24%</div>
<svg class="a" style="left:562.5px;top:195.9px" width="6.7" height="6.7" viewBox="0 0 6.4 6.4" fill="none" stroke="#848e9c" stroke-width="0.55"><path d="M3.2 0.5L4 2.3L6 2.5L4.5 3.8L4.95 5.8L3.2 4.75L1.45 5.8L1.9 3.8L0.4 2.5L2.4 2.3Z"/></svg>
<svg class="a" style="left:572.5px;top:195.95px" width="6.7" height="6.7" viewBox="-3.55 -3.55 7.1 7.1"><circle r="3.25" fill="#1b1c20" stroke="#6b7480" stroke-width="0.5"/><path d="M-0.9 -1.6H0.9V1.8H-0.9Z" fill="#d0262c"/></svg>
<div class="a b" style="left:582px;top:196.4px;font-size:5.7px">ACM/USDT<span style="display:inline-block;margin-left:3.6px;background:#2b3139;color:#d5d9de;font-size:5.5px;font-weight:normal;padding:0.8px 1.5px 0.8px;border-radius:1px;position:relative;top:-0.1px">5x</span></div>
<div class="a b r" style="left:650px;width:59.2px;top:196.3px;font-size:6px">0.573</div>
<div class="a rd m r" style="left:712px;width:30.8px;top:196.3px;font-size:6px">-5.48%</div>
<div class="a" style="left:554.2px;top:200px;width:199.8px;height:2.2px;background:#0b0e11"></div>
<div class="a" style="left:752px;top:50.9px;width:1.2px;height:37.5px;background:#414a59;border-radius:0.6px"></div>
<div class="p" id="tr" style="left:554.2px;top:202.2px;width:199.8px;height:174.3px;border-radius:4px"></div>
<div class="a b" style="left:562px;top:209px;font-size:7px">最新成交</div>
<div class="a g" style="left:598.7px;top:209px;font-size:7px">我的成交</div>
<div class="a g b" style="left:739.2px;top:208.2px;font-size:6.4px;letter-spacing:0.1px">···</div>
<div class="a" style="left:572px;top:220.6px;width:8px;height:1.4px;background:#fcd535"></div>
<div class="ln" style="left:554.2px;top:222px;width:199.8px;height:1.2px"></div>
<div class="a g" style="left:562px;top:228.2px;font-size:6px">价格 (USDT)</div>
<div class="a g r" style="left:630px;width:54.1px;top:228.2px;font-size:6px">数量 (BTC)</div>
<div class="a g r" style="left:700px;width:45.6px;top:228.2px;font-size:6px">时间</div>
<div class="a gr m" style="left:562px;top:239.9px;font-size:6px">103,720.61</div>
<div class="a b r" style="left:630px;width:54.1px;top:239.9px;font-size:6px">0.00092</div>
<div class="a b r" style="left:700px;width:44.8px;top:239.9px;font-size:6px">18:49:54</div>
<div class="a gr m" style="left:562px;top:249.9px;font-size:6px">103,720.59</div>
<div class="a b r" style="left:630px;width:54.1px;top:249.9px;font-size:6px">0.00169</div>
<div class="a b r" style="left:700px;width:44.8px;top:249.9px;font-size:6px">18:49:54</div>
<div class="a gr m" style="left:562px;top:259.9px;font-size:6px">103,720.56</div>
<div class="a b r" style="left:630px;width:54.1px;top:259.9px;font-size:6px">0.00015</div>
<div class="a b r" style="left:700px;width:44.8px;top:259.9px;font-size:6px">18:49:54</div>
<div class="a gr m" style="left:562px;top:269.9px;font-size:6px">103,720.24</div>
<div class="a b r" style="left:630px;width:54.1px;top:269.9px;font-size:6px">0.00005</div>
<div class="a b r" style="left:700px;width:44.8px;top:269.9px;font-size:6px">18:49:54</div>
<div class="a gr m" style="left:562px;top:279.9px;font-size:6px">103,720.00</div>
<div class="a b r" style="left:630px;width:54.1px;top:279.9px;font-size:6px">0.00005</div>
<div class="a b r" style="left:700px;width:44.8px;top:279.9px;font-size:6px">18:49:54</div>
<div class="a gr m" style="left:562px;top:289.9px;font-size:6px">103,719.42</div>
<div class="a b r" style="left:630px;width:54.1px;top:289.9px;font-size:6px">0.00006</div>
<div class="a b r" style="left:700px;width:44.8px;top:289.9px;font-size:6px">18:49:54</div>
<div class="a gr m" style="left:562px;top:299.9px;font-size:6px">103,718.94</div>
<div class="a b r" style="left:630px;width:54.1px;top:299.9px;font-size:6px">0.00121</div>
<div class="a b r" style="left:700px;width:44.8px;top:299.9px;font-size:6px">18:49:54</div>
<div class="a gr m" style="left:562px;top:309.9px;font-size:6px">103,716.21</div>
<div class="a b r" style="left:630px;width:54.1px;top:309.9px;font-size:6px">0.00015</div>
<div class="a b r" style="left:700px;width:44.8px;top:309.9px;font-size:6px">18:49:54</div>
<div class="a gr m" style="left:562px;top:319.9px;font-size:6px">103,715.52</div>
<div class="a b r" style="left:630px;width:54.1px;top:319.9px;font-size:6px">0.00090</div>
<div class="a b r" style="left:700px;width:44.8px;top:319.9px;font-size:6px">18:49:54</div>
<div class="a gr m" style="left:562px;top:329.9px;font-size:6px">103,715.51</div>
<div class="a b r" style="left:630px;width:54.1px;top:329.9px;font-size:6px">0.00157</div>
<div class="a b r" style="left:700px;width:44.8px;top:329.9px;font-size:6px">18:49:54</div>
<div class="a gr m" style="left:562px;top:339.9px;font-size:6px">103,715.51</div>
<div class="a b r" style="left:630px;width:54.1px;top:339.9px;font-size:6px">0.00130</div>
<div class="a b r" style="left:700px;width:44.8px;top:339.9px;font-size:6px">18:49:54</div>
<div class="a gr m" style="left:562px;top:349.9px;font-size:6px">103,715.50</div>
<div class="a b r" style="left:630px;width:54.1px;top:349.9px;font-size:6px">0.00322</div>
<div class="a b r" style="left:700px;width:44.8px;top:349.9px;font-size:6px">18:49:54</div>
<div class="a gr m" style="left:562px;top:359.9px;font-size:6px">103,715.50</div>
<div class="a b r" style="left:630px;width:54.1px;top:359.9px;font-size:6px">0.00015</div>
<div class="a b r" style="left:700px;width:44.8px;top:359.9px;font-size:6px">18:49:54</div>
<div class="a gr m" style="left:562px;top:369.9px;font-size:6px;opacity:0.22;clip-path:inset(0 0 3.9px 0)">103,715.50</div>
<div class="a b r" style="left:630px;width:54.1px;top:369.9px;font-size:6px;opacity:0.22;clip-path:inset(0 0 3.9px 0)">0.00041</div>
<div class="a b r" style="left:700px;width:44.8px;top:369.9px;font-size:6px;opacity:0.22;clip-path:inset(0 0 3.9px 0)">18:49:54</div>
<div class="a" style="left:752px;top:239.5px;width:1.2px;height:36.2px;background:#414a59;border-radius:0.6px"></div>
<div class="p" id="mv" style="left:554.2px;top:378.9px;width:199.8px;height:72.6px;border-radius:4px;overflow:hidden"></div>
<div class="a b" style="left:562px;top:385.2px;font-size:7px">市场异动</div>
<div class="a g" style="left:594.5px;top:385.9px;font-size:6px;border-bottom:0.5px solid #848e9c;padding-bottom:0.2px">常见问题</div>
<svg class="a" style="left:739.2px;top:384.6px" width="6" height="7" viewBox="0 0 6 7" fill="none" stroke="#848e9c" stroke-width="0.65"><path d="M0.8 1L3 3.1L5.2 1M0.8 3.8L3 5.9L5.2 3.8"/></svg>
<div class="ln" style="left:554.2px;top:398.2px;width:199.8px;height:1.2px"></div>
<div class="a b" style="left:562.5px;top:405.3px;width:19.5px;height:11.2px;background:#2b3139;border-radius:2px;font-size:6px;text-align:center;padding-top:2.6px">全部</div>
<div class="a g" style="left:587.6px;top:407.9px;font-size:6px">涨跌</div>
<div class="a g" style="left:608.4px;top:407.9px;font-size:6px">新高/新低</div>
<div class="a g" style="left:643.8px;top:407.9px;font-size:6px">波动</div>
<div class="a g" style="left:665px;top:407.9px;font-size:6px">成交量</div>
<div class="a b" style="left:562px;top:424.9px;font-size:5.8px">BAT/USDT</div>
<div class="a g" style="left:562px;top:432.6px;font-size:5.8px">18:00:23</div>
<div class="a gr m r" style="left:680px;width:36.4px;top:424px;font-size:6px">+25.25%</div>
<div class="a g r" style="left:680px;width:36.4px;top:431.8px;font-size:6px">探底回升</div>
<div class="a" style="left:725px;top:427px;width:20px;height:8.2px;background:#2ebd85;border-radius:1.4px"></div>
<svg class="a" style="left:732.4px;top:428.4px" width="5.4" height="5.4" viewBox="0 0 5.4 5.4" fill="none" stroke="#fff" stroke-width="0.8"><path d="M1.2 0.8V3.4Q1.2 4.4 2.4 4.2L4.2 3.2M4.2 3.2L3.2 2.4M4.2 3.2L3.6 4.4"/></svg>
<div class="a b" style="left:562px;top:444.8px;font-size:5.8px">DASH/USDT</div>
<div class="a rd m r" style="left:680px;width:36.4px;top:443.9px;font-size:6px">-7.10%</div>
<div class="a" style="left:725px;top:447px;width:20px;height:4.5px;background:#f6465d;border-radius:1.4px 1.4px 0 0"></div>
<div class="a" style="left:734px;top:449.6px;width:2.4px;height:1.9px;background:#fff;border-radius:1px 1px 0 0"></div>
<div class="a" style="left:752px;top:401px;width:1.2px;height:38px;background:#414a59;border-radius:0.6px"></div>
<div class="a" style="left:554.2px;top:451.5px;width:199.8px;height:2.4px;background:#0b0e11"></div>
<!--/RIGHT-->
</div>
</body>
</html>
